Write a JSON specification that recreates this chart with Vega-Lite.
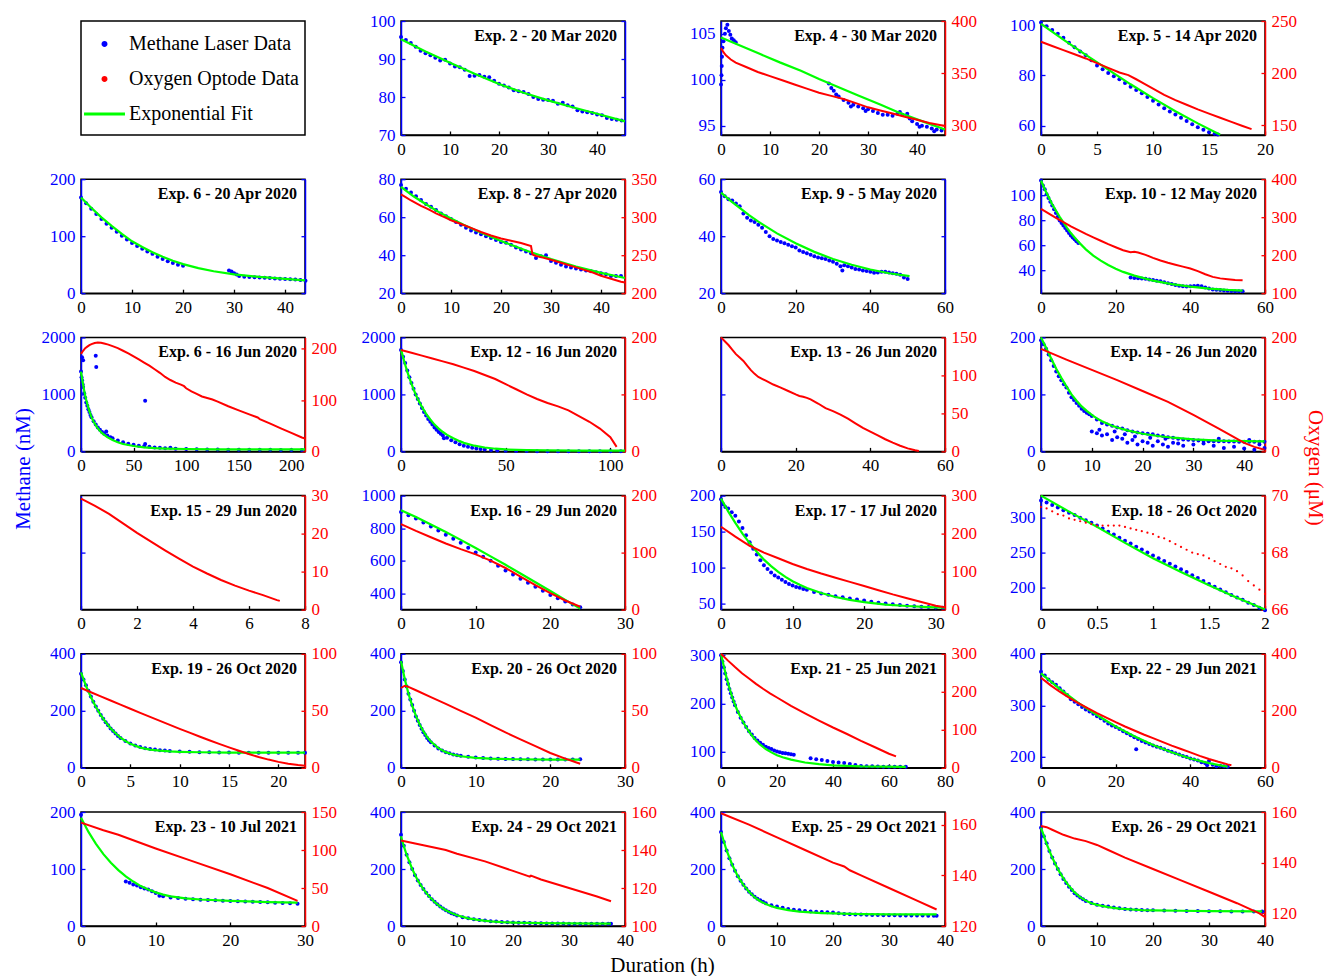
{
"$schema":"https://vega.github.io/schema/vega-lite/v6.json",
"padding":{"left":11,"top":11,"right":0,"bottom":0},
"background":"white",
"config":{
 "font":"Liberation Serif",
 "view":{"stroke":"#000","strokeWidth":1.5},
 "numberFormat":"~r",
 "axis":{"grid":false,"labelFont":"Liberation Serif","labelFontSize":17,"tickSize":-4,"tickWidth":1.3,"domainWidth":1.5,"labelPadding":10,"labelFlush":false,"labelOverlap":false,"titleFont":"Liberation Serif","titleFontSize":21,"titleFontWeight":"normal"},
 "axisBottom":{"domainColor":"#000","tickColor":"#000","labelColor":"#000"},
 "axisLeft":{"domainColor":"#0000ff","tickColor":"#0000ff","labelColor":"#0000ff"},
 "axisRight":{"domainColor":"#ff0000","tickColor":"#ff0000","labelColor":"#ff0000"},
 "legend":{"labelFont":"Liberation Serif"},
 "title":{"font":"Liberation Serif","fontSize":16,"fontWeight":"bold","anchor":"end","frame":"group","offset":-32,"dx":-8,"color":"#000"}
},
"datasets":{
"c":[
{"e":2,"t":0,"v":95.8},{"e":2,"t":1,"v":95},{"e":2,"t":2,"v":94.2},{"e":2,"t":3,"v":93.2},{"e":2,"t":4,"v":92.2},{"e":2,"t":5,"v":91.5},{"e":2,"t":6,"v":91},{"e":2,"t":7,"v":90.3},{"e":2,"t":8,"v":89.6},{"e":2,"t":9,"v":89.8},{"e":2,"t":10,"v":88.8},{"e":2,"t":11,"v":88},{"e":2,"t":12,"v":87.8},{"e":2,"t":13,"v":87.2},{"e":2,"t":14,"v":85.5},{"e":2,"t":15,"v":85.6},{"e":2,"t":16,"v":85.8},{"e":2,"t":17,"v":85.3},{"e":2,"t":18,"v":85.2},{"e":2,"t":19,"v":84.3},{"e":2,"t":20,"v":83.5},{"e":2,"t":21,"v":83},{"e":2,"t":22,"v":82.5},{"e":2,"t":23,"v":81.8},{"e":2,"t":24,"v":81.5},{"e":2,"t":25,"v":81.3},{"e":2,"t":26,"v":80.8},{"e":2,"t":27,"v":80},{"e":2,"t":28,"v":79.5},{"e":2,"t":29,"v":79.3},{"e":2,"t":30,"v":79.2},{"e":2,"t":31,"v":79},{"e":2,"t":32,"v":78.2},{"e":2,"t":33,"v":78.5},{"e":2,"t":34,"v":77.8},{"e":2,"t":35,"v":77.5},{"e":2,"t":36,"v":76.5},{"e":2,"t":37,"v":76.2},{"e":2,"t":38,"v":76},{"e":2,"t":39,"v":75.8},{"e":2,"t":40,"v":75.4},{"e":2,"t":41,"v":75.2},{"e":2,"t":42,"v":74.5},{"e":2,"t":43,"v":74.2},{"e":2,"t":44,"v":74},{"e":2,"t":45,"v":73.8},
{"e":4,"t":0,"v":99.5},{"e":4,"t":0.1,"v":100.5},{"e":4,"t":0.15,"v":101.5},{"e":4,"t":0.2,"v":102.5},{"e":4,"t":0.3,"v":103.5},{"e":4,"t":0.5,"v":104.2},{"e":4,"t":0.8,"v":105},{"e":4,"t":1,"v":105.6},{"e":4,"t":1.3,"v":106},{"e":4,"t":1.6,"v":105.3},{"e":4,"t":1.9,"v":104.9},{"e":4,"t":2.2,"v":104.5},{"e":4,"t":2.6,"v":104.3},{"e":4,"t":3,"v":104.1},{"e":4,"t":22,"v":99.6},{"e":4,"t":22.5,"v":99.1},{"e":4,"t":23,"v":98.8},{"e":4,"t":23.5,"v":98.4},{"e":4,"t":24,"v":98.2},{"e":4,"t":25,"v":97.8},{"e":4,"t":26,"v":97.5},{"e":4,"t":26.5,"v":97.1},{"e":4,"t":27,"v":97.3},{"e":4,"t":28,"v":97.1},{"e":4,"t":29,"v":96.9},{"e":4,"t":29.5,"v":96.6},{"e":4,"t":30,"v":96.8},{"e":4,"t":31,"v":96.6},{"e":4,"t":32,"v":96.4},{"e":4,"t":33,"v":96.2},{"e":4,"t":34,"v":96.2},{"e":4,"t":35,"v":96.1},{"e":4,"t":36,"v":96.3},{"e":4,"t":36.5,"v":96.5},{"e":4,"t":37,"v":96.2},{"e":4,"t":38,"v":96.3},{"e":4,"t":38.5,"v":95.8},{"e":4,"t":39,"v":95.5},{"e":4,"t":40,"v":95.2},{"e":4,"t":40.5,"v":94.9},{"e":4,"t":41,"v":95},{"e":4,"t":42,"v":94.9},{"e":4,"t":43,"v":94.7},{"e":4,"t":43.5,"v":94.4},{"e":4,"t":44,"v":94.6},{"e":4,"t":45,"v":94.5},
{"e":5,"t":0,"v":101},{"e":5,"t":0.5,"v":99.5},{"e":5,"t":1,"v":98},{"e":5,"t":1.5,"v":96.5},{"e":5,"t":2,"v":95},{"e":5,"t":2.5,"v":93},{"e":5,"t":3,"v":91.2},{"e":5,"t":3.5,"v":89.5},{"e":5,"t":4,"v":88},{"e":5,"t":4.5,"v":86},{"e":5,"t":5,"v":84},{"e":5,"t":5.5,"v":82.5},{"e":5,"t":6,"v":81},{"e":5,"t":6.5,"v":79.7},{"e":5,"t":7,"v":78.5},{"e":5,"t":7.5,"v":77},{"e":5,"t":8,"v":75.5},{"e":5,"t":8.5,"v":74.2},{"e":5,"t":9,"v":73},{"e":5,"t":9.5,"v":71.5},{"e":5,"t":10,"v":70},{"e":5,"t":10.5,"v":68.5},{"e":5,"t":11,"v":67},{"e":5,"t":11.5,"v":65.7},{"e":5,"t":12,"v":64.5},{"e":5,"t":12.5,"v":63.2},{"e":5,"t":13,"v":62},{"e":5,"t":13.5,"v":60.7},{"e":5,"t":14,"v":59.5},{"e":5,"t":14.5,"v":58.5},{"e":5,"t":15,"v":57.5},{"e":5,"t":15.5,"v":56.9},{"e":5,"t":15.8,"v":56.6},
{"e":6,"t":0,"v":168},{"e":6,"t":1,"v":158},{"e":6,"t":2,"v":148},{"e":6,"t":3,"v":139},{"e":6,"t":4,"v":130},{"e":6,"t":5,"v":122},{"e":6,"t":6,"v":115},{"e":6,"t":7,"v":108},{"e":6,"t":8,"v":101},{"e":6,"t":9,"v":94},{"e":6,"t":10,"v":88},{"e":6,"t":11,"v":83},{"e":6,"t":12,"v":78},{"e":6,"t":13,"v":73},{"e":6,"t":14,"v":69},{"e":6,"t":15,"v":64},{"e":6,"t":16,"v":60},{"e":6,"t":17,"v":56},{"e":6,"t":18,"v":53},{"e":6,"t":19,"v":50},{"e":6,"t":20,"v":48},{"e":6,"t":29,"v":40},{"e":6,"t":29.5,"v":38},{"e":6,"t":30,"v":35},{"e":6,"t":30.5,"v":33},{"e":6,"t":31,"v":30},{"e":6,"t":32,"v":29},{"e":6,"t":33,"v":28.5},{"e":6,"t":34,"v":28},{"e":6,"t":35,"v":27.5},{"e":6,"t":36,"v":27},{"e":6,"t":37,"v":26.5},{"e":6,"t":38,"v":26},{"e":6,"t":39,"v":25.5},{"e":6,"t":40,"v":25},{"e":6,"t":41,"v":24.5},{"e":6,"t":42,"v":24},{"e":6,"t":43,"v":23},{"e":6,"t":44,"v":22},
{"e":8,"t":0,"v":77},{"e":8,"t":1,"v":75},{"e":8,"t":2,"v":73},{"e":8,"t":3,"v":71},{"e":8,"t":4,"v":69},{"e":8,"t":5,"v":67},{"e":8,"t":6,"v":65.5},{"e":8,"t":7,"v":63.8},{"e":8,"t":8,"v":62},{"e":8,"t":9,"v":60.5},{"e":8,"t":10,"v":59},{"e":8,"t":11,"v":57.5},{"e":8,"t":12,"v":56},{"e":8,"t":13,"v":54.5},{"e":8,"t":14,"v":53},{"e":8,"t":15,"v":52},{"e":8,"t":16,"v":51},{"e":8,"t":17,"v":50},{"e":8,"t":18,"v":49},{"e":8,"t":19,"v":48},{"e":8,"t":20,"v":47},{"e":8,"t":21,"v":46.5},{"e":8,"t":22,"v":45.5},{"e":8,"t":23,"v":44},{"e":8,"t":24,"v":43},{"e":8,"t":25,"v":42},{"e":8,"t":26,"v":41},{"e":8,"t":27,"v":38.5},{"e":8,"t":28,"v":39.5},{"e":8,"t":29,"v":40},{"e":8,"t":30,"v":37},{"e":8,"t":31,"v":36},{"e":8,"t":32,"v":35},{"e":8,"t":33,"v":34},{"e":8,"t":34,"v":33.5},{"e":8,"t":35,"v":33},{"e":8,"t":36,"v":32.5},{"e":8,"t":37,"v":32},{"e":8,"t":38,"v":31.5},{"e":8,"t":39,"v":31},{"e":8,"t":40,"v":30.5},{"e":8,"t":41,"v":30},{"e":8,"t":42,"v":29},{"e":8,"t":43,"v":29},{"e":8,"t":44,"v":29},
{"e":9,"t":0,"v":55.5},{"e":9,"t":1,"v":54},{"e":9,"t":2,"v":53},{"e":9,"t":3,"v":52.5},{"e":9,"t":4,"v":51.5},{"e":9,"t":5,"v":50.5},{"e":9,"t":6,"v":48},{"e":9,"t":7,"v":46.5},{"e":9,"t":8,"v":45.5},{"e":9,"t":9,"v":45},{"e":9,"t":10,"v":44},{"e":9,"t":11,"v":43},{"e":9,"t":12,"v":41.5},{"e":9,"t":13,"v":40},{"e":9,"t":14,"v":39},{"e":9,"t":15,"v":38.5},{"e":9,"t":16,"v":38},{"e":9,"t":17,"v":37.5},{"e":9,"t":18,"v":37},{"e":9,"t":19,"v":36.5},{"e":9,"t":20,"v":36},{"e":9,"t":21,"v":35},{"e":9,"t":22,"v":34.5},{"e":9,"t":23,"v":34},{"e":9,"t":24,"v":33.5},{"e":9,"t":25,"v":33},{"e":9,"t":26,"v":32.5},{"e":9,"t":27,"v":32.3},{"e":9,"t":28,"v":32},{"e":9,"t":29,"v":31.5},{"e":9,"t":30,"v":31},{"e":9,"t":31,"v":30.3},{"e":9,"t":32,"v":29.5},{"e":9,"t":32.5,"v":28},{"e":9,"t":33,"v":29.8},{"e":9,"t":34,"v":29.5},{"e":9,"t":35,"v":29},{"e":9,"t":36,"v":28.5},{"e":9,"t":37,"v":28.3},{"e":9,"t":38,"v":28},{"e":9,"t":39,"v":27.8},{"e":9,"t":40,"v":27.5},{"e":9,"t":41,"v":27.2},{"e":9,"t":42,"v":27.3},{"e":9,"t":43,"v":27.5},{"e":9,"t":44,"v":27.5},{"e":9,"t":45,"v":27.3},{"e":9,"t":46,"v":27},{"e":9,"t":47,"v":26.8},{"e":9,"t":48,"v":26.5},{"e":9,"t":49,"v":25.5},{"e":9,"t":50,"v":25},
{"e":10,"t":0,"v":112},{"e":10,"t":0.5,"v":108},{"e":10,"t":1,"v":105},{"e":10,"t":1.5,"v":101},{"e":10,"t":2,"v":98},{"e":10,"t":2.5,"v":95},{"e":10,"t":3,"v":92},{"e":10,"t":3.5,"v":89},{"e":10,"t":4,"v":86},{"e":10,"t":4.5,"v":83},{"e":10,"t":5,"v":80},{"e":10,"t":5.5,"v":78},{"e":10,"t":6,"v":76},{"e":10,"t":6.5,"v":74},{"e":10,"t":7,"v":72},{"e":10,"t":7.5,"v":70},{"e":10,"t":8,"v":68},{"e":10,"t":8.5,"v":66.5},{"e":10,"t":9,"v":65},{"e":10,"t":9.5,"v":63.5},{"e":10,"t":10,"v":62},{"e":10,"t":24,"v":34.5},{"e":10,"t":25,"v":34.2},{"e":10,"t":26,"v":34},{"e":10,"t":27,"v":33.8},{"e":10,"t":28,"v":33.5},{"e":10,"t":29,"v":33},{"e":10,"t":30,"v":32.5},{"e":10,"t":31,"v":32},{"e":10,"t":32,"v":31.5},{"e":10,"t":33,"v":30.8},{"e":10,"t":34,"v":30},{"e":10,"t":35,"v":29.3},{"e":10,"t":36,"v":28.5},{"e":10,"t":37,"v":28},{"e":10,"t":38,"v":27.5},{"e":10,"t":39,"v":27.3},{"e":10,"t":40,"v":27.5},{"e":10,"t":41,"v":27.8},{"e":10,"t":42,"v":28},{"e":10,"t":43,"v":27.5},{"e":10,"t":44,"v":26.5},{"e":10,"t":45,"v":25.8},{"e":10,"t":46,"v":25},{"e":10,"t":47,"v":24.8},{"e":10,"t":48,"v":24.5},{"e":10,"t":49,"v":24.2},{"e":10,"t":50,"v":24},{"e":10,"t":51,"v":23.8},{"e":10,"t":52,"v":23.5},{"e":10,"t":53,"v":23.5},{"e":10,"t":54,"v":23.5},
{"e":61,"t":0,"v":1400},{"e":61,"t":0.5,"v":1300},{"e":61,"t":1,"v":1250},{"e":61,"t":1.5,"v":1180},{"e":61,"t":2,"v":1130},{"e":61,"t":3,"v":1020},{"e":61,"t":4,"v":940},{"e":61,"t":5,"v":860},{"e":61,"t":6,"v":800},{"e":61,"t":7,"v":740},{"e":61,"t":8,"v":690},{"e":61,"t":9,"v":640},{"e":61,"t":10,"v":600},{"e":61,"t":12,"v":530},{"e":61,"t":14,"v":470},{"e":61,"t":16,"v":420},{"e":61,"t":18,"v":380},{"e":61,"t":20,"v":340},{"e":61,"t":22,"v":310},{"e":61,"t":25,"v":280},{"e":61,"t":28,"v":250},{"e":61,"t":30,"v":230},{"e":61,"t":35,"v":190},{"e":61,"t":40,"v":160},{"e":61,"t":45,"v":135},{"e":61,"t":50,"v":115},{"e":61,"t":55,"v":100},{"e":61,"t":60,"v":90},{"e":61,"t":65,"v":80},{"e":61,"t":70,"v":70},{"e":61,"t":75,"v":62},{"e":61,"t":80,"v":55},{"e":61,"t":90,"v":45},{"e":61,"t":100,"v":40},{"e":61,"t":110,"v":37},{"e":61,"t":120,"v":35},{"e":61,"t":130,"v":33},{"e":61,"t":140,"v":31},{"e":61,"t":150,"v":30},{"e":61,"t":160,"v":29},{"e":61,"t":170,"v":28},{"e":61,"t":180,"v":27},{"e":61,"t":190,"v":26},{"e":61,"t":200,"v":25},{"e":61,"t":210,"v":25},{"e":61,"t":1,"v":1650},{"e":61,"t":2,"v":1600},{"e":61,"t":14,"v":1680},{"e":61,"t":14.5,"v":1480},{"e":61,"t":61,"v":890},{"e":61,"t":61,"v":130},{"e":61,"t":85,"v":65},{"e":61,"t":24,"v":350},
{"e":12,"t":0,"v":1780},{"e":12,"t":1,"v":1660},{"e":12,"t":2,"v":1550},{"e":12,"t":3,"v":1420},{"e":12,"t":4,"v":1300},{"e":12,"t":5,"v":1200},{"e":12,"t":6,"v":1100},{"e":12,"t":7,"v":1000},{"e":12,"t":8,"v":920},{"e":12,"t":9,"v":840},{"e":12,"t":10,"v":760},{"e":12,"t":11,"v":690},{"e":12,"t":12,"v":630},{"e":12,"t":13,"v":570},{"e":12,"t":14,"v":520},{"e":12,"t":15,"v":470},{"e":12,"t":16,"v":420},{"e":12,"t":17,"v":380},{"e":12,"t":18,"v":340},{"e":12,"t":19,"v":310},{"e":12,"t":20,"v":280},{"e":12,"t":20.5,"v":230},{"e":12,"t":22,"v":240},{"e":12,"t":24,"v":195},{"e":12,"t":26,"v":160},{"e":12,"t":28,"v":125},{"e":12,"t":30,"v":100},{"e":12,"t":32,"v":80},{"e":12,"t":34,"v":65},{"e":12,"t":36,"v":52},{"e":12,"t":38,"v":42},{"e":12,"t":40,"v":35},{"e":12,"t":43,"v":25},{"e":12,"t":46,"v":17},{"e":12,"t":50,"v":12},{"e":12,"t":55,"v":7},{"e":12,"t":60,"v":5},{"e":12,"t":65,"v":4},{"e":12,"t":70,"v":3},{"e":12,"t":75,"v":3},{"e":12,"t":80,"v":3},{"e":12,"t":85,"v":3},{"e":12,"t":90,"v":3},{"e":12,"t":95,"v":3},{"e":12,"t":100,"v":3},{"e":12,"t":105,"v":3},
{"e":14,"t":0,"v":195},{"e":14,"t":0.5,"v":188},{"e":14,"t":1,"v":180},{"e":14,"t":1.5,"v":170},{"e":14,"t":2,"v":160},{"e":14,"t":2.5,"v":150},{"e":14,"t":3,"v":140},{"e":14,"t":3.5,"v":132},{"e":14,"t":4,"v":125},{"e":14,"t":4.5,"v":118},{"e":14,"t":5,"v":112},{"e":14,"t":5.5,"v":103},{"e":14,"t":6,"v":95},{"e":14,"t":6.5,"v":90},{"e":14,"t":7,"v":85},{"e":14,"t":7.5,"v":80},{"e":14,"t":8,"v":75},{"e":14,"t":8.5,"v":71},{"e":14,"t":9,"v":68},{"e":14,"t":9.5,"v":65},{"e":14,"t":10,"v":62},{"e":14,"t":11,"v":56},{"e":14,"t":12,"v":50},{"e":14,"t":13,"v":47},{"e":14,"t":14,"v":45},{"e":14,"t":15,"v":42},{"e":14,"t":16,"v":40},{"e":14,"t":17,"v":37},{"e":14,"t":18,"v":35},{"e":14,"t":19,"v":33},{"e":14,"t":20,"v":32},{"e":14,"t":21,"v":31},{"e":14,"t":22,"v":30},{"e":14,"t":23,"v":28},{"e":14,"t":24,"v":27},{"e":14,"t":25,"v":25},{"e":14,"t":26,"v":24},{"e":14,"t":27,"v":22},{"e":14,"t":28,"v":21},{"e":14,"t":29,"v":20.5},{"e":14,"t":30,"v":20},{"e":14,"t":31,"v":19},{"e":14,"t":32,"v":18.5},{"e":14,"t":33,"v":18},{"e":14,"t":34,"v":18},{"e":14,"t":35,"v":18},{"e":14,"t":36,"v":18},{"e":14,"t":37,"v":17.5},{"e":14,"t":38,"v":17.5},{"e":14,"t":39,"v":17},{"e":14,"t":40,"v":17},{"e":14,"t":41,"v":17},{"e":14,"t":42,"v":17},{"e":14,"t":43,"v":17},{"e":14,"t":44,"v":17},{"e":14,"t":10,"v":35},{"e":14,"t":11,"v":32},{"e":14,"t":11.5,"v":38},{"e":14,"t":12,"v":28},{"e":14,"t":13,"v":30},{"e":14,"t":14,"v":20},{"e":14,"t":14.5,"v":35},{"e":14,"t":15,"v":25},{"e":14,"t":16,"v":22},{"e":14,"t":16.5,"v":30},{"e":14,"t":17,"v":15},{"e":14,"t":18,"v":20},{"e":14,"t":18.5,"v":26},{"e":14,"t":19,"v":12},{"e":14,"t":20,"v":18},{"e":14,"t":21,"v":15},{"e":14,"t":21.5,"v":24},{"e":14,"t":22,"v":10},{"e":14,"t":23,"v":18},{"e":14,"t":24,"v":12},{"e":14,"t":24.5,"v":22},{"e":14,"t":25,"v":8},{"e":14,"t":26,"v":15},{"e":14,"t":27,"v":14},{"e":14,"t":28,"v":10},{"e":14,"t":30,"v":12},{"e":14,"t":32,"v":14},{"e":14,"t":34,"v":10},{"e":14,"t":35,"v":22},{"e":14,"t":36,"v":6},{"e":14,"t":38,"v":8},{"e":14,"t":40,"v":5},{"e":14,"t":41,"v":20},{"e":14,"t":42,"v":3},{"e":14,"t":43,"v":12},{"e":14,"t":44,"v":6},
{"e":16,"t":0,"v":900},{"e":16,"t":1,"v":880},{"e":16,"t":2,"v":860},{"e":16,"t":3,"v":835},{"e":16,"t":4,"v":810},{"e":16,"t":5,"v":785},{"e":16,"t":6,"v":760},{"e":16,"t":7,"v":735},{"e":16,"t":8,"v":710},{"e":16,"t":9,"v":680},{"e":16,"t":10,"v":650},{"e":16,"t":11,"v":625},{"e":16,"t":12,"v":600},{"e":16,"t":13,"v":570},{"e":16,"t":14,"v":540},{"e":16,"t":15,"v":515},{"e":16,"t":16,"v":490},{"e":16,"t":17,"v":465},{"e":16,"t":18,"v":440},{"e":16,"t":19,"v":415},{"e":16,"t":20,"v":390},{"e":16,"t":21,"v":370},{"e":16,"t":22,"v":350},{"e":16,"t":23,"v":332},{"e":16,"t":24,"v":315},
{"e":17,"t":0,"v":195},{"e":17,"t":0.3,"v":188},{"e":17,"t":0.6,"v":184},{"e":17,"t":1,"v":182},{"e":17,"t":1.5,"v":177},{"e":17,"t":2,"v":172},{"e":17,"t":2.5,"v":164},{"e":17,"t":3,"v":155},{"e":17,"t":3.5,"v":145},{"e":17,"t":4,"v":135},{"e":17,"t":4.5,"v":126},{"e":17,"t":5,"v":118},{"e":17,"t":5.5,"v":110},{"e":17,"t":6,"v":103},{"e":17,"t":6.5,"v":98},{"e":17,"t":7,"v":93},{"e":17,"t":7.5,"v":89},{"e":17,"t":8,"v":86},{"e":17,"t":8.5,"v":83},{"e":17,"t":9,"v":80},{"e":17,"t":9.5,"v":77},{"e":17,"t":10,"v":75},{"e":17,"t":10.5,"v":73},{"e":17,"t":11,"v":72},{"e":17,"t":11.5,"v":70},{"e":17,"t":12,"v":69},{"e":17,"t":13,"v":66},{"e":17,"t":14,"v":64},{"e":17,"t":15,"v":62},{"e":17,"t":16,"v":60},{"e":17,"t":17,"v":58.5},{"e":17,"t":18,"v":57},{"e":17,"t":19,"v":55.5},{"e":17,"t":20,"v":54},{"e":17,"t":21,"v":52.5},{"e":17,"t":22,"v":51},{"e":17,"t":23,"v":50},{"e":17,"t":24,"v":49},{"e":17,"t":25,"v":48},{"e":17,"t":26,"v":47},{"e":17,"t":27,"v":46.3},{"e":17,"t":28,"v":45.5},{"e":17,"t":29,"v":45},{"e":17,"t":30,"v":44.5},{"e":17,"t":31,"v":44},
{"e":18,"t":0,"v":325},{"e":18,"t":0.05,"v":322},{"e":18,"t":0.1,"v":318.5},{"e":18,"t":0.15,"v":315},{"e":18,"t":0.2,"v":311},{"e":18,"t":0.25,"v":307.5},{"e":18,"t":0.3,"v":304},{"e":18,"t":0.35,"v":300},{"e":18,"t":0.4,"v":296.5},{"e":18,"t":0.45,"v":293},{"e":18,"t":0.5,"v":289},{"e":18,"t":0.55,"v":284.5},{"e":18,"t":0.6,"v":280},{"e":18,"t":0.65,"v":276},{"e":18,"t":0.7,"v":271.5},{"e":18,"t":0.75,"v":267},{"e":18,"t":0.8,"v":263},{"e":18,"t":0.85,"v":258.5},{"e":18,"t":0.9,"v":254.5},{"e":18,"t":0.95,"v":250},{"e":18,"t":1,"v":246},{"e":18,"t":1.05,"v":242},{"e":18,"t":1.1,"v":238},{"e":18,"t":1.15,"v":234},{"e":18,"t":1.2,"v":230},{"e":18,"t":1.25,"v":226},{"e":18,"t":1.3,"v":222},{"e":18,"t":1.35,"v":217.5},{"e":18,"t":1.4,"v":213.5},{"e":18,"t":1.45,"v":209},{"e":18,"t":1.5,"v":205},{"e":18,"t":1.55,"v":201},{"e":18,"t":1.6,"v":197},{"e":18,"t":1.65,"v":193},{"e":18,"t":1.7,"v":189},{"e":18,"t":1.75,"v":185.5},{"e":18,"t":1.8,"v":182},{"e":18,"t":1.85,"v":178},{"e":18,"t":1.9,"v":174.5},{"e":18,"t":1.95,"v":170.5},{"e":18,"t":2,"v":167},
{"e":19,"t":0,"v":330},{"e":19,"t":0.25,"v":310},{"e":19,"t":0.5,"v":290},{"e":19,"t":0.75,"v":270},{"e":19,"t":1,"v":250},{"e":19,"t":1.25,"v":232},{"e":19,"t":1.5,"v":215},{"e":19,"t":1.75,"v":200},{"e":19,"t":2,"v":185},{"e":19,"t":2.25,"v":172},{"e":19,"t":2.5,"v":160},{"e":19,"t":2.75,"v":149},{"e":19,"t":3,"v":138},{"e":19,"t":3.25,"v":129},{"e":19,"t":3.5,"v":120},{"e":19,"t":3.75,"v":112},{"e":19,"t":4,"v":105},{"e":19,"t":4.5,"v":94},{"e":19,"t":5,"v":85},{"e":19,"t":5.5,"v":78},{"e":19,"t":6,"v":73},{"e":19,"t":6.5,"v":69},{"e":19,"t":7,"v":66},{"e":19,"t":7.5,"v":64},{"e":19,"t":8,"v":62},{"e":19,"t":8.5,"v":60.5},{"e":19,"t":9,"v":59},{"e":19,"t":10,"v":57},{"e":19,"t":11,"v":56},{"e":19,"t":12,"v":55},{"e":19,"t":13,"v":54.5},{"e":19,"t":14,"v":54},{"e":19,"t":15,"v":53.5},{"e":19,"t":16,"v":53},{"e":19,"t":17,"v":53},{"e":19,"t":18,"v":53},{"e":19,"t":19,"v":53},{"e":19,"t":20,"v":53},{"e":19,"t":21,"v":53},{"e":19,"t":22,"v":53},{"e":19,"t":22.7,"v":53},
{"e":20,"t":0,"v":370},{"e":20,"t":0.25,"v":340},{"e":20,"t":0.5,"v":310},{"e":20,"t":0.75,"v":285},{"e":20,"t":1,"v":260},{"e":20,"t":1.25,"v":240},{"e":20,"t":1.5,"v":220},{"e":20,"t":1.75,"v":200},{"e":20,"t":2,"v":180},{"e":20,"t":2.25,"v":165},{"e":20,"t":2.5,"v":150},{"e":20,"t":2.75,"v":137},{"e":20,"t":3,"v":125},{"e":20,"t":3.25,"v":115},{"e":20,"t":3.5,"v":105},{"e":20,"t":3.75,"v":97},{"e":20,"t":4,"v":90},{"e":20,"t":4.5,"v":78},{"e":20,"t":5,"v":68},{"e":20,"t":5.5,"v":61},{"e":20,"t":6,"v":55},{"e":20,"t":6.5,"v":51},{"e":20,"t":7,"v":47},{"e":20,"t":7.5,"v":44},{"e":20,"t":8,"v":42},{"e":20,"t":9,"v":39},{"e":20,"t":10,"v":36},{"e":20,"t":11,"v":34.5},{"e":20,"t":12,"v":33},{"e":20,"t":13,"v":32},{"e":20,"t":14,"v":31},{"e":20,"t":15,"v":30.5},{"e":20,"t":16,"v":30},{"e":20,"t":17,"v":29.7},{"e":20,"t":18,"v":29.5},{"e":20,"t":19,"v":29.2},{"e":20,"t":20,"v":29},{"e":20,"t":21,"v":29},{"e":20,"t":22,"v":29},{"e":20,"t":23,"v":29.5},{"e":20,"t":24,"v":30},
{"e":21,"t":0,"v":300},{"e":21,"t":0.5,"v":287},{"e":21,"t":1,"v":275},{"e":21,"t":1.5,"v":262},{"e":21,"t":2,"v":250},{"e":21,"t":2.5,"v":240},{"e":21,"t":3,"v":230},{"e":21,"t":3.5,"v":221},{"e":21,"t":4,"v":212},{"e":21,"t":4.5,"v":204},{"e":21,"t":5,"v":196},{"e":21,"t":6,"v":182},{"e":21,"t":7,"v":170},{"e":21,"t":8,"v":160},{"e":21,"t":9,"v":151},{"e":21,"t":10,"v":142},{"e":21,"t":11,"v":135},{"e":21,"t":12,"v":128},{"e":21,"t":13,"v":123},{"e":21,"t":14,"v":118},{"e":21,"t":15,"v":114},{"e":21,"t":16,"v":110},{"e":21,"t":17,"v":107},{"e":21,"t":18,"v":105},{"e":21,"t":19,"v":102},{"e":21,"t":20,"v":100},{"e":21,"t":21,"v":98.5},{"e":21,"t":22,"v":97},{"e":21,"t":23,"v":96},{"e":21,"t":24,"v":95},{"e":21,"t":25,"v":94},{"e":21,"t":26,"v":93},{"e":21,"t":32,"v":86},{"e":21,"t":34,"v":84},{"e":21,"t":36,"v":82},{"e":21,"t":38,"v":80},{"e":21,"t":40,"v":78},{"e":21,"t":42,"v":77},{"e":21,"t":44,"v":76},{"e":21,"t":46,"v":74},{"e":21,"t":48,"v":72},{"e":21,"t":50,"v":70},{"e":21,"t":52,"v":69},{"e":21,"t":54,"v":69},{"e":21,"t":56,"v":68.5},{"e":21,"t":58,"v":68},{"e":21,"t":60,"v":68},{"e":21,"t":62,"v":68},{"e":21,"t":64,"v":68},{"e":21,"t":66,"v":68},
{"e":22,"t":0,"v":365},{"e":22,"t":1,"v":358},{"e":22,"t":2,"v":350},{"e":22,"t":3,"v":345},{"e":22,"t":4,"v":340},{"e":22,"t":5,"v":333},{"e":22,"t":6,"v":327},{"e":22,"t":7,"v":320},{"e":22,"t":8,"v":312},{"e":22,"t":9,"v":307},{"e":22,"t":10,"v":302},{"e":22,"t":11,"v":297},{"e":22,"t":12,"v":292},{"e":22,"t":13,"v":288},{"e":22,"t":14,"v":284},{"e":22,"t":15,"v":279},{"e":22,"t":16,"v":275},{"e":22,"t":17,"v":270},{"e":22,"t":18,"v":265},{"e":22,"t":19,"v":261},{"e":22,"t":20,"v":258},{"e":22,"t":21,"v":254},{"e":22,"t":22,"v":250},{"e":22,"t":23,"v":246},{"e":22,"t":24,"v":242},{"e":22,"t":25,"v":238},{"e":22,"t":25.5,"v":215},{"e":22,"t":26,"v":235},{"e":22,"t":27,"v":231},{"e":22,"t":28,"v":228},{"e":22,"t":29,"v":225},{"e":22,"t":30,"v":222},{"e":22,"t":31,"v":220},{"e":22,"t":32,"v":218},{"e":22,"t":33,"v":215},{"e":22,"t":34,"v":212},{"e":22,"t":35,"v":210},{"e":22,"t":36,"v":207},{"e":22,"t":37,"v":205},{"e":22,"t":38,"v":202},{"e":22,"t":39,"v":200},{"e":22,"t":40,"v":197},{"e":22,"t":41,"v":195},{"e":22,"t":42,"v":193},{"e":22,"t":43,"v":190},{"e":22,"t":44,"v":188},{"e":22,"t":44.5,"v":184},{"e":22,"t":45,"v":192},{"e":22,"t":46,"v":185},{"e":22,"t":47,"v":182},{"e":22,"t":48,"v":183},{"e":22,"t":49,"v":182},{"e":22,"t":50,"v":181},
{"e":23,"t":0,"v":195},{"e":23,"t":6,"v":78},{"e":23,"t":6.5,"v":76},{"e":23,"t":7,"v":73},{"e":23,"t":7.5,"v":71},{"e":23,"t":8,"v":68},{"e":23,"t":8.5,"v":66},{"e":23,"t":9,"v":64},{"e":23,"t":9.5,"v":61},{"e":23,"t":10,"v":58},{"e":23,"t":10.5,"v":53},{"e":23,"t":11,"v":52},{"e":23,"t":12,"v":50},{"e":23,"t":13,"v":49},{"e":23,"t":14,"v":48},{"e":23,"t":15,"v":47},{"e":23,"t":16,"v":46},{"e":23,"t":17,"v":45.5},{"e":23,"t":18,"v":45},{"e":23,"t":19,"v":44.5},{"e":23,"t":20,"v":44},{"e":23,"t":21,"v":43.5},{"e":23,"t":22,"v":43},{"e":23,"t":23,"v":42.5},{"e":23,"t":24,"v":42},{"e":23,"t":25,"v":41.5},{"e":23,"t":26,"v":41},{"e":23,"t":27,"v":40.5},{"e":23,"t":28,"v":40},{"e":23,"t":29,"v":39},
{"e":24,"t":0,"v":320},{"e":24,"t":0.5,"v":282},{"e":24,"t":1,"v":250},{"e":24,"t":1.5,"v":224},{"e":24,"t":2,"v":200},{"e":24,"t":2.5,"v":178},{"e":24,"t":3,"v":160},{"e":24,"t":3.5,"v":144},{"e":24,"t":4,"v":130},{"e":24,"t":4.5,"v":117},{"e":24,"t":5,"v":105},{"e":24,"t":5.5,"v":94},{"e":24,"t":6,"v":85},{"e":24,"t":6.5,"v":76},{"e":24,"t":7,"v":68},{"e":24,"t":7.5,"v":61},{"e":24,"t":8,"v":55},{"e":24,"t":8.5,"v":50},{"e":24,"t":9,"v":45},{"e":24,"t":9.5,"v":41},{"e":24,"t":10,"v":37},{"e":24,"t":11,"v":31},{"e":24,"t":12,"v":27},{"e":24,"t":13,"v":24},{"e":24,"t":14,"v":21},{"e":24,"t":15,"v":19},{"e":24,"t":16,"v":17},{"e":24,"t":17,"v":15.5},{"e":24,"t":18,"v":14},{"e":24,"t":19,"v":13},{"e":24,"t":20,"v":12},{"e":24,"t":21,"v":11.5},{"e":24,"t":22,"v":11},{"e":24,"t":23,"v":10.5},{"e":24,"t":24,"v":10},{"e":24,"t":25,"v":10},{"e":24,"t":26,"v":9},{"e":24,"t":27,"v":9},{"e":24,"t":28,"v":9},{"e":24,"t":29,"v":8.5},{"e":24,"t":30,"v":8},{"e":24,"t":31,"v":8},{"e":24,"t":32,"v":8},{"e":24,"t":33,"v":8},{"e":24,"t":34,"v":8},{"e":24,"t":35,"v":8},{"e":24,"t":36,"v":8},{"e":24,"t":37,"v":8},{"e":24,"t":37.5,"v":8},
{"e":25,"t":0,"v":330},{"e":25,"t":0.5,"v":295},{"e":25,"t":1,"v":265},{"e":25,"t":1.5,"v":238},{"e":25,"t":2,"v":215},{"e":25,"t":2.5,"v":194},{"e":25,"t":3,"v":175},{"e":25,"t":3.5,"v":159},{"e":25,"t":4,"v":145},{"e":25,"t":4.5,"v":132},{"e":25,"t":5,"v":120},{"e":25,"t":5.5,"v":111},{"e":25,"t":6,"v":103},{"e":25,"t":6.5,"v":96},{"e":25,"t":7,"v":90},{"e":25,"t":7.5,"v":85},{"e":25,"t":8,"v":80},{"e":25,"t":9,"v":73},{"e":25,"t":10,"v":68},{"e":25,"t":11,"v":64},{"e":25,"t":12,"v":60},{"e":25,"t":13,"v":57},{"e":25,"t":14,"v":55},{"e":25,"t":15,"v":53},{"e":25,"t":16,"v":51},{"e":25,"t":17,"v":50},{"e":25,"t":18,"v":49},{"e":25,"t":19,"v":48},{"e":25,"t":20,"v":47},{"e":25,"t":21,"v":45},{"e":25,"t":22,"v":42},{"e":25,"t":23,"v":41},{"e":25,"t":24,"v":40.5},{"e":25,"t":25,"v":40},{"e":25,"t":26,"v":39.5},{"e":25,"t":27,"v":39},{"e":25,"t":28,"v":38.5},{"e":25,"t":29,"v":38},{"e":25,"t":30,"v":38},{"e":25,"t":31,"v":37.5},{"e":25,"t":32,"v":37},{"e":25,"t":33,"v":37},{"e":25,"t":34,"v":37},{"e":25,"t":35,"v":37},{"e":25,"t":36,"v":36.5},{"e":25,"t":37,"v":36},{"e":25,"t":38,"v":36},{"e":25,"t":38.5,"v":36},
{"e":26,"t":0,"v":345},{"e":26,"t":0.5,"v":315},{"e":26,"t":1,"v":290},{"e":26,"t":1.5,"v":263},{"e":26,"t":2,"v":240},{"e":26,"t":2.5,"v":219},{"e":26,"t":3,"v":200},{"e":26,"t":3.5,"v":182},{"e":26,"t":4,"v":165},{"e":26,"t":4.5,"v":151},{"e":26,"t":5,"v":138},{"e":26,"t":5.5,"v":126},{"e":26,"t":6,"v":115},{"e":26,"t":6.5,"v":107},{"e":26,"t":7,"v":100},{"e":26,"t":7.5,"v":94},{"e":26,"t":8,"v":88},{"e":26,"t":9,"v":81},{"e":26,"t":10,"v":75},{"e":26,"t":11,"v":71},{"e":26,"t":12,"v":68},{"e":26,"t":13,"v":65},{"e":26,"t":14,"v":62},{"e":26,"t":15,"v":60},{"e":26,"t":16,"v":58},{"e":26,"t":17,"v":57},{"e":26,"t":18,"v":56},{"e":26,"t":19,"v":55.5},{"e":26,"t":20,"v":55},{"e":26,"t":22,"v":54},{"e":26,"t":24,"v":53.5},{"e":26,"t":26,"v":53},{"e":26,"t":28,"v":52.5},{"e":26,"t":30,"v":52},{"e":26,"t":32,"v":51.5},{"e":26,"t":34,"v":51},{"e":26,"t":36,"v":51},{"e":26,"t":38,"v":51},{"e":26,"t":39.5,"v":51}
],
"f":[
{"e":2,"t":0,"v":95.2},{"e":2,"t":5,"v":92},{"e":2,"t":10,"v":89},{"e":2,"t":15,"v":86.1},{"e":2,"t":20,"v":83.4},{"e":2,"t":25,"v":81.1},{"e":2,"t":30,"v":79.1},{"e":2,"t":35,"v":77.3},{"e":2,"t":40,"v":75.6},{"e":2,"t":45.7,"v":73.6},
{"e":4,"t":0,"v":104.6},{"e":4,"t":4,"v":103.7},{"e":4,"t":8,"v":102.8},{"e":4,"t":12,"v":101.9},{"e":4,"t":16.3,"v":101},{"e":4,"t":20,"v":100.1},{"e":4,"t":24,"v":99.2},{"e":4,"t":28,"v":98.3},{"e":4,"t":32.6,"v":97.3},{"e":4,"t":36,"v":96.5},{"e":4,"t":40,"v":95.7},{"e":4,"t":45.7,"v":94.6},
{"e":5,"t":0,"v":100.5},{"e":5,"t":2,"v":94.2},{"e":5,"t":4,"v":88.2},{"e":5,"t":6,"v":82.3},{"e":5,"t":8,"v":76.5},{"e":5,"t":10,"v":71},{"e":5,"t":12,"v":65.8},{"e":5,"t":14,"v":61},{"e":5,"t":16,"v":56.5},
{"e":6,"t":0,"v":168},{"e":6,"t":2,"v":150},{"e":6,"t":4,"v":133},{"e":6,"t":6,"v":118},{"e":6,"t":8,"v":104},{"e":6,"t":10,"v":91},{"e":6,"t":12,"v":81},{"e":6,"t":14,"v":72},{"e":6,"t":16,"v":64},{"e":6,"t":18,"v":57},{"e":6,"t":20,"v":51},{"e":6,"t":23,"v":44},{"e":6,"t":26,"v":38.5},{"e":6,"t":30,"v":33},{"e":6,"t":35,"v":28.5},{"e":6,"t":40,"v":25},{"e":6,"t":43.9,"v":22.5},
{"e":8,"t":0,"v":76},{"e":8,"t":2.5,"v":71},{"e":8,"t":5,"v":66.8},{"e":8,"t":7.5,"v":62.8},{"e":8,"t":10,"v":59.3},{"e":8,"t":12.5,"v":56},{"e":8,"t":15,"v":53},{"e":8,"t":20,"v":47.5},{"e":8,"t":25,"v":42.5},{"e":8,"t":30,"v":38},{"e":8,"t":35,"v":34},{"e":8,"t":40,"v":30.7},{"e":8,"t":44.8,"v":28},
{"e":9,"t":0,"v":55.3},{"e":9,"t":2.5,"v":52.5},{"e":9,"t":5,"v":49.9},{"e":9,"t":7.5,"v":47.4},{"e":9,"t":10,"v":45.1},{"e":9,"t":15,"v":41},{"e":9,"t":20,"v":37.5},{"e":9,"t":25,"v":34.5},{"e":9,"t":30,"v":32},{"e":9,"t":35,"v":30},{"e":9,"t":40,"v":28.3},{"e":9,"t":45,"v":27},{"e":9,"t":50.5,"v":26},
{"e":10,"t":0,"v":112},{"e":10,"t":1,"v":105},{"e":10,"t":2,"v":99},{"e":10,"t":3,"v":93},{"e":10,"t":4,"v":88},{"e":10,"t":5,"v":83},{"e":10,"t":6,"v":78.5},{"e":10,"t":7,"v":74},{"e":10,"t":8,"v":70},{"e":10,"t":9,"v":66.5},{"e":10,"t":10,"v":63},{"e":10,"t":12,"v":57},{"e":10,"t":14,"v":52},{"e":10,"t":16,"v":48},{"e":10,"t":18,"v":44.5},{"e":10,"t":20,"v":41.5},{"e":10,"t":22,"v":39},{"e":10,"t":25,"v":36},{"e":10,"t":30,"v":32},{"e":10,"t":35,"v":29.2},{"e":10,"t":40,"v":27.2},{"e":10,"t":45,"v":25.7},{"e":10,"t":50,"v":24.6},{"e":10,"t":54,"v":24},
{"e":61,"t":0,"v":1400},{"e":61,"t":1,"v":1280},{"e":61,"t":2,"v":1170},{"e":61,"t":3,"v":1070},{"e":61,"t":4,"v":980},{"e":61,"t":5,"v":900},{"e":61,"t":6,"v":830},{"e":61,"t":8,"v":700},{"e":61,"t":10,"v":600},{"e":61,"t":12,"v":520},{"e":61,"t":15,"v":430},{"e":61,"t":18,"v":360},{"e":61,"t":20,"v":320},{"e":61,"t":25,"v":250},{"e":61,"t":30,"v":200},{"e":61,"t":35,"v":160},{"e":61,"t":40,"v":130},{"e":61,"t":50,"v":95},{"e":61,"t":60,"v":72},{"e":61,"t":70,"v":58},{"e":61,"t":80,"v":50},{"e":61,"t":100,"v":42},{"e":61,"t":130,"v":37},{"e":61,"t":170,"v":35},{"e":61,"t":213,"v":34},
{"e":12,"t":0,"v":1790},{"e":12,"t":1,"v":1650},{"e":12,"t":2,"v":1520},{"e":12,"t":3,"v":1400},{"e":12,"t":4,"v":1290},{"e":12,"t":5,"v":1190},{"e":12,"t":6,"v":1090},{"e":12,"t":7,"v":1000},{"e":12,"t":8,"v":920},{"e":12,"t":9,"v":850},{"e":12,"t":10,"v":780},{"e":12,"t":12,"v":660},{"e":12,"t":14,"v":560},{"e":12,"t":16,"v":470},{"e":12,"t":18,"v":400},{"e":12,"t":20,"v":340},{"e":12,"t":22,"v":290},{"e":12,"t":25,"v":230},{"e":12,"t":28,"v":180},{"e":12,"t":30,"v":150},{"e":12,"t":35,"v":100},{"e":12,"t":40,"v":68},{"e":12,"t":45,"v":47},{"e":12,"t":50,"v":34},{"e":12,"t":60,"v":22},{"e":12,"t":70,"v":17},{"e":12,"t":85,"v":15},{"e":12,"t":107,"v":14},
{"e":14,"t":0,"v":200},{"e":14,"t":1,"v":182},{"e":14,"t":2,"v":163},{"e":14,"t":3,"v":145},{"e":14,"t":4,"v":129},{"e":14,"t":5,"v":114},{"e":14,"t":6,"v":100},{"e":14,"t":7,"v":89},{"e":14,"t":8,"v":79},{"e":14,"t":9,"v":71},{"e":14,"t":10,"v":64},{"e":14,"t":11,"v":58},{"e":14,"t":12,"v":53},{"e":14,"t":13,"v":49},{"e":14,"t":14,"v":45},{"e":14,"t":15,"v":42},{"e":14,"t":17,"v":37},{"e":14,"t":20,"v":31},{"e":14,"t":23,"v":27},{"e":14,"t":26,"v":24},{"e":14,"t":30,"v":21},{"e":14,"t":35,"v":19},{"e":14,"t":40,"v":18},{"e":14,"t":44,"v":17.5},
{"e":16,"t":0,"v":910},{"e":16,"t":2,"v":868},{"e":16,"t":4,"v":823},{"e":16,"t":6,"v":776},{"e":16,"t":8,"v":728},{"e":16,"t":10,"v":678},{"e":16,"t":12,"v":627},{"e":16,"t":14,"v":575},{"e":16,"t":16,"v":522},{"e":16,"t":18,"v":468},{"e":16,"t":20,"v":414},{"e":16,"t":22,"v":360},{"e":16,"t":24,"v":306},
{"e":17,"t":0,"v":196},{"e":17,"t":1,"v":178},{"e":17,"t":2,"v":162},{"e":17,"t":3,"v":147},{"e":17,"t":4,"v":134},{"e":17,"t":5,"v":122},{"e":17,"t":6,"v":111},{"e":17,"t":7,"v":102},{"e":17,"t":8,"v":94},{"e":17,"t":9,"v":87},{"e":17,"t":10,"v":81},{"e":17,"t":11,"v":76},{"e":17,"t":12,"v":71.5},{"e":17,"t":14,"v":64.5},{"e":17,"t":16,"v":59},{"e":17,"t":18,"v":55},{"e":17,"t":20,"v":52},{"e":17,"t":23,"v":48.5},{"e":17,"t":26,"v":46.5},{"e":17,"t":29,"v":45},{"e":17,"t":31.3,"v":44.3},
{"e":18,"t":0,"v":332},{"e":18,"t":0.25,"v":309},{"e":18,"t":0.5,"v":287},{"e":18,"t":0.75,"v":264},{"e":18,"t":1,"v":242},{"e":18,"t":1.25,"v":222},{"e":18,"t":1.5,"v":203},{"e":18,"t":1.75,"v":185},{"e":18,"t":2,"v":168},
{"e":19,"t":0,"v":335},{"e":19,"t":0.5,"v":288},{"e":19,"t":1,"v":248},{"e":19,"t":1.5,"v":214},{"e":19,"t":2,"v":185},{"e":19,"t":2.5,"v":160},{"e":19,"t":3,"v":139},{"e":19,"t":3.5,"v":121},{"e":19,"t":4,"v":106},{"e":19,"t":4.5,"v":94},{"e":19,"t":5,"v":84},{"e":19,"t":6,"v":71},{"e":19,"t":7,"v":64},{"e":19,"t":8,"v":60},{"e":19,"t":9,"v":57.5},{"e":19,"t":10,"v":56},{"e":19,"t":12,"v":54.5},{"e":19,"t":15,"v":53.5},{"e":19,"t":20,"v":53},{"e":19,"t":22.7,"v":53},
{"e":20,"t":0,"v":375},{"e":20,"t":0.5,"v":312},{"e":20,"t":1,"v":260},{"e":20,"t":1.5,"v":218},{"e":20,"t":2,"v":182},{"e":20,"t":2.5,"v":152},{"e":20,"t":3,"v":128},{"e":20,"t":3.5,"v":108},{"e":20,"t":4,"v":92},{"e":20,"t":5,"v":69},{"e":20,"t":6,"v":55},{"e":20,"t":7,"v":46},{"e":20,"t":8,"v":40.5},{"e":20,"t":10,"v":35},{"e":20,"t":12,"v":32},{"e":20,"t":15,"v":30},{"e":20,"t":20,"v":29},{"e":20,"t":24,"v":29},
{"e":21,"t":0,"v":303},{"e":21,"t":1,"v":277},{"e":21,"t":2,"v":253},{"e":21,"t":3,"v":232},{"e":21,"t":4,"v":213},{"e":21,"t":5,"v":197},{"e":21,"t":6,"v":183},{"e":21,"t":8,"v":160},{"e":21,"t":10,"v":141},{"e":21,"t":12,"v":126},{"e":21,"t":14,"v":114},{"e":21,"t":16,"v":105},{"e":21,"t":18,"v":98},{"e":21,"t":20,"v":92},{"e":21,"t":22,"v":88},{"e":21,"t":25,"v":83},{"e":21,"t":30,"v":77},{"e":21,"t":35,"v":73.5},{"e":21,"t":40,"v":71},{"e":21,"t":50,"v":69},{"e":21,"t":66,"v":68},
{"e":22,"t":0,"v":362},{"e":22,"t":5,"v":332},{"e":22,"t":10,"v":305},{"e":22,"t":15,"v":281},{"e":22,"t":20,"v":259},{"e":22,"t":25,"v":240},{"e":22,"t":30,"v":223},{"e":22,"t":35,"v":209},{"e":22,"t":40,"v":197},{"e":22,"t":45,"v":188},{"e":22,"t":50,"v":181},
{"e":23,"t":0,"v":190},{"e":23,"t":1,"v":165},{"e":23,"t":2,"v":144},{"e":23,"t":3,"v":126},{"e":23,"t":4,"v":111},{"e":23,"t":5,"v":98},{"e":23,"t":6,"v":87},{"e":23,"t":7,"v":78},{"e":23,"t":8,"v":70},{"e":23,"t":9,"v":64},{"e":23,"t":10,"v":59},{"e":23,"t":11,"v":55},{"e":23,"t":12,"v":52},{"e":23,"t":14,"v":48.5},{"e":23,"t":16,"v":46.5},{"e":23,"t":20,"v":44},{"e":23,"t":25,"v":42},{"e":23,"t":29,"v":41},
{"e":24,"t":0,"v":315},{"e":24,"t":0.5,"v":280},{"e":24,"t":1,"v":250},{"e":24,"t":2,"v":200},{"e":24,"t":3,"v":160},{"e":24,"t":4,"v":129},{"e":24,"t":5,"v":104},{"e":24,"t":6,"v":84},{"e":24,"t":7,"v":68},{"e":24,"t":8,"v":55.5},{"e":24,"t":9,"v":45.5},{"e":24,"t":10,"v":37.5},{"e":24,"t":12,"v":27},{"e":24,"t":14,"v":20.5},{"e":24,"t":16,"v":16.5},{"e":24,"t":18,"v":13.5},{"e":24,"t":20,"v":12},{"e":24,"t":25,"v":10},{"e":24,"t":30,"v":9},{"e":24,"t":37.5,"v":8.5},
{"e":25,"t":0,"v":330},{"e":25,"t":1,"v":265},{"e":25,"t":2,"v":215},{"e":25,"t":3,"v":175},{"e":25,"t":4,"v":144},{"e":25,"t":5,"v":120},{"e":25,"t":6,"v":101},{"e":25,"t":7,"v":87},{"e":25,"t":8,"v":77},{"e":25,"t":9,"v":69.5},{"e":25,"t":10,"v":63.5},{"e":25,"t":12,"v":55.5},{"e":25,"t":14,"v":50.5},{"e":25,"t":16,"v":47.5},{"e":25,"t":18,"v":45.5},{"e":25,"t":20,"v":44},{"e":25,"t":25,"v":42},{"e":25,"t":30,"v":41},{"e":25,"t":38.5,"v":40.5},
{"e":26,"t":0,"v":345},{"e":26,"t":1,"v":288},{"e":26,"t":2,"v":240},{"e":26,"t":3,"v":200},{"e":26,"t":4,"v":167},{"e":26,"t":5,"v":140},{"e":26,"t":6,"v":118},{"e":26,"t":7,"v":101},{"e":26,"t":8,"v":89},{"e":26,"t":9,"v":80},{"e":26,"t":10,"v":74},{"e":26,"t":12,"v":66},{"e":26,"t":14,"v":61},{"e":26,"t":16,"v":58},{"e":26,"t":18,"v":56},{"e":26,"t":20,"v":55},{"e":26,"t":25,"v":53.5},{"e":26,"t":30,"v":52.5},{"e":26,"t":39.5,"v":51.5}
],
"o":[
{"e":4,"t":0,"v":374},{"e":4,"t":0.5,"v":370},{"e":4,"t":1,"v":367},{"e":4,"t":2,"v":363},{"e":4,"t":3,"v":360},{"e":4,"t":5,"v":356},{"e":4,"t":7.5,"v":351},{"e":4,"t":10,"v":347},{"e":4,"t":12.5,"v":343},{"e":4,"t":15,"v":339},{"e":4,"t":17.5,"v":335},{"e":4,"t":20,"v":331},{"e":4,"t":22.5,"v":328},{"e":4,"t":25,"v":325},{"e":4,"t":27.5,"v":321},{"e":4,"t":30,"v":317},{"e":4,"t":32.5,"v":314},{"e":4,"t":35,"v":311},{"e":4,"t":37.5,"v":308},{"e":4,"t":40,"v":305},{"e":4,"t":42.5,"v":302},{"e":4,"t":45.7,"v":299},
{"e":5,"t":0,"v":230},{"e":5,"t":1,"v":226},{"e":5,"t":2,"v":222},{"e":5,"t":3,"v":218},{"e":5,"t":4,"v":214},{"e":5,"t":5,"v":209.5},{"e":5,"t":6,"v":205},{"e":5,"t":7,"v":200.5},{"e":5,"t":7.8,"v":198},{"e":5,"t":8.5,"v":194},{"e":5,"t":9,"v":191},{"e":5,"t":10,"v":185},{"e":5,"t":11,"v":179},{"e":5,"t":12,"v":174},{"e":5,"t":13,"v":169.5},{"e":5,"t":14,"v":165},{"e":5,"t":15,"v":161},{"e":5,"t":16,"v":157},{"e":5,"t":17,"v":153},{"e":5,"t":18,"v":149},{"e":5,"t":18.8,"v":146},
{"e":8,"t":0,"v":330},{"e":8,"t":1,"v":326},{"e":8,"t":2,"v":322},{"e":8,"t":3,"v":318.5},{"e":8,"t":4,"v":315},{"e":8,"t":5,"v":312},{"e":8,"t":6,"v":308.5},{"e":8,"t":7,"v":305},{"e":8,"t":8,"v":302},{"e":8,"t":9,"v":299},{"e":8,"t":10,"v":296},{"e":8,"t":12,"v":291},{"e":8,"t":14,"v":286},{"e":8,"t":16,"v":280.5},{"e":8,"t":18,"v":276},{"e":8,"t":20,"v":272},{"e":8,"t":22,"v":269},{"e":8,"t":24,"v":266},{"e":8,"t":26,"v":262},{"e":8,"t":26.3,"v":251},{"e":8,"t":27,"v":249},{"e":8,"t":28,"v":247.5},{"e":8,"t":30,"v":244},{"e":8,"t":32,"v":240},{"e":8,"t":34,"v":236},{"e":8,"t":36,"v":232},{"e":8,"t":38,"v":228},{"e":8,"t":40,"v":223},{"e":8,"t":42,"v":219},{"e":8,"t":44,"v":215},{"e":8,"t":44.8,"v":214},
{"e":10,"t":0,"v":322},{"e":10,"t":2,"v":310},{"e":10,"t":4,"v":298},{"e":10,"t":6,"v":287},{"e":10,"t":8,"v":276},{"e":10,"t":10,"v":266},{"e":10,"t":12,"v":256},{"e":10,"t":14,"v":247},{"e":10,"t":16,"v":238},{"e":10,"t":18,"v":229},{"e":10,"t":20,"v":221},{"e":10,"t":22,"v":213},{"e":10,"t":24,"v":208},{"e":10,"t":25,"v":209},{"e":10,"t":26,"v":207},{"e":10,"t":28,"v":201},{"e":10,"t":30,"v":193},{"e":10,"t":32,"v":186},{"e":10,"t":34,"v":180},{"e":10,"t":36,"v":175},{"e":10,"t":38,"v":170},{"e":10,"t":40,"v":165},{"e":10,"t":42,"v":158},{"e":10,"t":44,"v":150},{"e":10,"t":46,"v":143},{"e":10,"t":48,"v":139},{"e":10,"t":50,"v":137},{"e":10,"t":52,"v":135},{"e":10,"t":54,"v":134},
{"e":61,"t":0,"v":190},{"e":61,"t":2,"v":196},{"e":61,"t":4,"v":201},{"e":61,"t":6,"v":204},{"e":61,"t":8,"v":207},{"e":61,"t":10,"v":209},{"e":61,"t":13,"v":211},{"e":61,"t":16,"v":212},{"e":61,"t":19,"v":211.5},{"e":61,"t":22,"v":210},{"e":61,"t":26,"v":208},{"e":61,"t":30,"v":205},{"e":61,"t":35,"v":201},{"e":61,"t":40,"v":196},{"e":61,"t":45,"v":191},{"e":61,"t":50,"v":185},{"e":61,"t":55,"v":179},{"e":61,"t":60,"v":173},{"e":61,"t":65,"v":167},{"e":61,"t":70,"v":160},{"e":61,"t":75,"v":153},{"e":61,"t":80,"v":145},{"e":61,"t":85,"v":139},{"e":61,"t":90,"v":134},{"e":61,"t":95,"v":130},{"e":61,"t":98,"v":127},{"e":61,"t":100,"v":123},{"e":61,"t":105,"v":117},{"e":61,"t":110,"v":112},{"e":61,"t":115,"v":107},{"e":61,"t":120,"v":104},{"e":61,"t":125,"v":101},{"e":61,"t":130,"v":97},{"e":61,"t":140,"v":88},{"e":61,"t":150,"v":80},{"e":61,"t":160,"v":72},{"e":61,"t":168,"v":66},{"e":61,"t":170,"v":63},{"e":61,"t":180,"v":54},{"e":61,"t":190,"v":45},{"e":61,"t":200,"v":36},{"e":61,"t":210,"v":27},{"e":61,"t":213,"v":25},
{"e":12,"t":0,"v":178},{"e":12,"t":5,"v":173},{"e":12,"t":10,"v":168},{"e":12,"t":15,"v":163},{"e":12,"t":20,"v":158},{"e":12,"t":25,"v":153},{"e":12,"t":30,"v":147},{"e":12,"t":35,"v":141},{"e":12,"t":40,"v":134},{"e":12,"t":45,"v":127},{"e":12,"t":50,"v":118},{"e":12,"t":55,"v":109},{"e":12,"t":60,"v":100},{"e":12,"t":65,"v":92},{"e":12,"t":70,"v":85},{"e":12,"t":75,"v":79},{"e":12,"t":80,"v":72},{"e":12,"t":85,"v":62},{"e":12,"t":90,"v":52},{"e":12,"t":95,"v":40},{"e":12,"t":100,"v":25},{"e":12,"t":103,"v":8},
{"e":13,"t":0,"v":150},{"e":13,"t":1,"v":145},{"e":13,"t":2,"v":140},{"e":13,"t":3,"v":134},{"e":13,"t":4,"v":128},{"e":13,"t":5,"v":123.5},{"e":13,"t":6,"v":119},{"e":13,"t":7,"v":113},{"e":13,"t":8,"v":107},{"e":13,"t":9,"v":102},{"e":13,"t":10,"v":98},{"e":13,"t":11,"v":95.5},{"e":13,"t":12,"v":93},{"e":13,"t":14,"v":88},{"e":13,"t":16,"v":84},{"e":13,"t":18,"v":79.5},{"e":13,"t":20,"v":75},{"e":13,"t":21,"v":73},{"e":13,"t":22,"v":72},{"e":13,"t":23,"v":70.5},{"e":13,"t":24,"v":68.5},{"e":13,"t":26,"v":63},{"e":13,"t":28,"v":57},{"e":13,"t":30,"v":53},{"e":13,"t":32,"v":48.5},{"e":13,"t":34,"v":43},{"e":13,"t":36,"v":37},{"e":13,"t":38,"v":31},{"e":13,"t":40,"v":26},{"e":13,"t":42,"v":21},{"e":13,"t":44,"v":16},{"e":13,"t":46,"v":11.5},{"e":13,"t":48,"v":7.5},{"e":13,"t":50,"v":4},{"e":13,"t":52,"v":1.5},{"e":13,"t":53,"v":0.5},
{"e":14,"t":0,"v":180},{"e":14,"t":5,"v":161},{"e":14,"t":10,"v":143},{"e":14,"t":15,"v":125},{"e":14,"t":20,"v":106},{"e":14,"t":25,"v":87},{"e":14,"t":30,"v":64},{"e":14,"t":35,"v":40},{"e":14,"t":38,"v":25},{"e":14,"t":40,"v":15},{"e":14,"t":42,"v":8},{"e":14,"t":44,"v":3},
{"e":15,"t":0,"v":29.2},{"e":15,"t":0.5,"v":27.3},{"e":15,"t":1,"v":25.2},{"e":15,"t":1.5,"v":22.7},{"e":15,"t":2,"v":20.2},{"e":15,"t":2.5,"v":17.9},{"e":15,"t":3,"v":15.6},{"e":15,"t":3.5,"v":13.4},{"e":15,"t":4,"v":11.3},{"e":15,"t":4.5,"v":9.5},{"e":15,"t":5,"v":7.8},{"e":15,"t":5.5,"v":6.3},{"e":15,"t":6,"v":5},{"e":15,"t":6.5,"v":3.8},{"e":15,"t":7,"v":2.5},{"e":15,"t":7.1,"v":2.3},
{"e":16,"t":0,"v":150},{"e":16,"t":2,"v":138},{"e":16,"t":4,"v":127},{"e":16,"t":6,"v":116},{"e":16,"t":8,"v":106},{"e":16,"t":10,"v":97},{"e":16,"t":12,"v":86},{"e":16,"t":14,"v":73},{"e":16,"t":16,"v":58},{"e":16,"t":18,"v":43},{"e":16,"t":20,"v":29},{"e":16,"t":22,"v":16},{"e":16,"t":24,"v":5},
{"e":17,"t":0,"v":218},{"e":17,"t":2,"v":192},{"e":17,"t":4,"v":168},{"e":17,"t":6,"v":150},{"e":17,"t":8,"v":135},{"e":17,"t":10,"v":120},{"e":17,"t":12,"v":107},{"e":17,"t":14,"v":95},{"e":17,"t":16,"v":84},{"e":17,"t":18,"v":73},{"e":17,"t":20,"v":62},{"e":17,"t":22,"v":51},{"e":17,"t":24,"v":40},{"e":17,"t":26,"v":30},{"e":17,"t":28,"v":20},{"e":17,"t":30,"v":10},{"e":17,"t":31.3,"v":6},
{"e":19,"t":0,"v":70},{"e":19,"t":1,"v":66.3},{"e":19,"t":2,"v":62.6},{"e":19,"t":3,"v":59},{"e":19,"t":4,"v":55.4},{"e":19,"t":5,"v":51.8},{"e":19,"t":6,"v":48.2},{"e":19,"t":7,"v":44.7},{"e":19,"t":8,"v":41.2},{"e":19,"t":9,"v":37.7},{"e":19,"t":10,"v":34.2},{"e":19,"t":11,"v":30.8},{"e":19,"t":12,"v":27.5},{"e":19,"t":13,"v":24.2},{"e":19,"t":14,"v":21},{"e":19,"t":15,"v":17.9},{"e":19,"t":16,"v":14.9},{"e":19,"t":17,"v":12.1},{"e":19,"t":18,"v":9.5},{"e":19,"t":19,"v":7.2},{"e":19,"t":20,"v":5.2},{"e":19,"t":21,"v":3.6},{"e":19,"t":22,"v":2.4},{"e":19,"t":22.7,"v":1.8},
{"e":20,"t":0,"v":70},{"e":20,"t":0.5,"v":72},{"e":20,"t":1,"v":71},{"e":20,"t":2,"v":68},{"e":20,"t":4,"v":62},{"e":20,"t":6,"v":56},{"e":20,"t":8,"v":50},{"e":20,"t":10,"v":44},{"e":20,"t":12,"v":37.5},{"e":20,"t":14,"v":31},{"e":20,"t":16,"v":25},{"e":20,"t":18,"v":19},{"e":20,"t":20,"v":13},{"e":20,"t":22,"v":8},{"e":20,"t":24,"v":3.5},
{"e":21,"t":0,"v":300},{"e":21,"t":2.5,"v":282},{"e":21,"t":5,"v":265},{"e":21,"t":7.5,"v":249},{"e":21,"t":10,"v":235},{"e":21,"t":12.5,"v":221},{"e":21,"t":15,"v":208},{"e":21,"t":17.5,"v":196},{"e":21,"t":20,"v":185},{"e":21,"t":25,"v":163},{"e":21,"t":30,"v":143},{"e":21,"t":35,"v":124},{"e":21,"t":40,"v":106},{"e":21,"t":45,"v":89},{"e":21,"t":50,"v":71},{"e":21,"t":55,"v":54},{"e":21,"t":60,"v":37},{"e":21,"t":62.5,"v":30},
{"e":22,"t":0,"v":316},{"e":22,"t":2.5,"v":290},{"e":22,"t":5,"v":267},{"e":22,"t":7.5,"v":246},{"e":22,"t":10,"v":227},{"e":22,"t":12.5,"v":209},{"e":22,"t":15,"v":192},{"e":22,"t":17.5,"v":176},{"e":22,"t":20,"v":160},{"e":22,"t":22.5,"v":145},{"e":22,"t":25,"v":131},{"e":22,"t":27.5,"v":117},{"e":22,"t":30,"v":104},{"e":22,"t":32.5,"v":91},{"e":22,"t":35,"v":78},{"e":22,"t":37.5,"v":66},{"e":22,"t":40,"v":54},{"e":22,"t":42.5,"v":42},{"e":22,"t":45,"v":31},{"e":22,"t":47.5,"v":21},{"e":22,"t":50,"v":12},{"e":22,"t":51,"v":9},
{"e":23,"t":0,"v":136},{"e":23,"t":3,"v":126},{"e":23,"t":5,"v":120},{"e":23,"t":10,"v":102},{"e":23,"t":15,"v":85},{"e":23,"t":20,"v":68},{"e":23,"t":25,"v":50},{"e":23,"t":29,"v":33},
{"e":24,"t":0,"v":145},{"e":24,"t":4,"v":142.5},{"e":24,"t":8,"v":140},{"e":24,"t":10,"v":138},{"e":24,"t":15,"v":134},{"e":24,"t":20,"v":129},{"e":24,"t":23,"v":126},{"e":24,"t":23.2,"v":126.5},{"e":24,"t":25,"v":124.5},{"e":24,"t":30,"v":120},{"e":24,"t":35,"v":115.5},{"e":24,"t":37.5,"v":113},
{"e":25,"t":0,"v":164.5},{"e":25,"t":5,"v":160},{"e":25,"t":10,"v":155},{"e":25,"t":15,"v":150},{"e":25,"t":20,"v":145},{"e":25,"t":22,"v":143.5},{"e":25,"t":23,"v":142},{"e":25,"t":25,"v":140},{"e":25,"t":30,"v":135},{"e":25,"t":35,"v":130},{"e":25,"t":38.5,"v":126.5},
{"e":26,"t":0,"v":154.5},{"e":26,"t":1,"v":154},{"e":26,"t":2,"v":153},{"e":26,"t":4,"v":151},{"e":26,"t":6,"v":149.5},{"e":26,"t":8,"v":148.5},{"e":26,"t":10,"v":147},{"e":26,"t":12,"v":145},{"e":26,"t":15,"v":142},{"e":26,"t":20,"v":137.5},{"e":26,"t":25,"v":133},{"e":26,"t":30,"v":128.5},{"e":26,"t":35,"v":124},{"e":26,"t":39,"v":120},{"e":26,"t":40,"v":118.5}
],
"o18":[
{"e":18,"t":0,"v":69.6},{"e":18,"t":0.05,"v":69.55},{"e":18,"t":0.1,"v":69.45},{"e":18,"t":0.15,"v":69.35},{"e":18,"t":0.2,"v":69.3},{"e":18,"t":0.25,"v":69.2},{"e":18,"t":0.3,"v":69.15},{"e":18,"t":0.35,"v":69.1},{"e":18,"t":0.4,"v":69.05},{"e":18,"t":0.45,"v":69},{"e":18,"t":0.5,"v":68.95},{"e":18,"t":0.55,"v":68.95},{"e":18,"t":0.6,"v":68.95},{"e":18,"t":0.65,"v":68.95},{"e":18,"t":0.7,"v":68.95},{"e":18,"t":0.75,"v":68.9},{"e":18,"t":0.8,"v":68.85},{"e":18,"t":0.85,"v":68.8},{"e":18,"t":0.9,"v":68.75},{"e":18,"t":0.95,"v":68.7},{"e":18,"t":1,"v":68.65},{"e":18,"t":1.05,"v":68.55},{"e":18,"t":1.1,"v":68.5},{"e":18,"t":1.15,"v":68.4},{"e":18,"t":1.2,"v":68.3},{"e":18,"t":1.25,"v":68.2},{"e":18,"t":1.3,"v":68.1},{"e":18,"t":1.35,"v":68},{"e":18,"t":1.4,"v":67.95},{"e":18,"t":1.45,"v":67.9},{"e":18,"t":1.5,"v":67.8},{"e":18,"t":1.55,"v":67.7},{"e":18,"t":1.6,"v":67.6},{"e":18,"t":1.65,"v":67.5},{"e":18,"t":1.7,"v":67.45},{"e":18,"t":1.75,"v":67.35},{"e":18,"t":1.8,"v":67.2},{"e":18,"t":1.85,"v":67},{"e":18,"t":1.9,"v":66.85},{"e":18,"t":1.95,"v":66.7},{"e":18,"t":2,"v":66.55}
]
},
"columns":4,
"spacing":{"row":44.2,"column":96},
"bounds":"flush",
"concat":[
{"width":224,"height":114,"view":{"stroke":"#000","strokeWidth":1.5},"data":{"values":[{"s":"Methane Laser Data"},{"s":"Oxygen Optode Data"},{"s":"Exponential Fit"}]},"mark":{"type":"point","filled":true,"opacity":0},
 "encoding":{
  "color":{"field":"s","type":"nominal","scale":{"domain":["Methane Laser Data","Oxygen Optode Data","Exponential Fit"],"range":["#0000ff","#ff0000","#00ff00"]},"legend":{"orient":"none","legendX":6,"legendY":5.5,"title":null,"labelFont":"Liberation Serif","labelFontSize":20,"labelColor":"#000","symbolSize":1225,"symbolStrokeWidth":0,"symbolOpacity":1,"rowPadding":7,"labelOffset":7,"padding":0,"labelLimit":300}},
  "shape":{"field":"s","type":"nominal","scale":{"domain":["Methane Laser Data","Oxygen Optode Data","Exponential Fit"],"range":["M-0.17,0A0.17,0.17,0,1,0,0.17,0A0.17,0.17,0,1,0,-0.17,0Z","M-0.17,0A0.17,0.17,0,1,0,0.17,0A0.17,0.17,0,1,0,-0.17,0Z","M-1.17,-0.085H1.17V0.085H-1.17Z"]},"legend":{"orient":"none","legendX":6,"legendY":5.5,"title":null,"labelFont":"Liberation Serif","labelFontSize":20,"labelColor":"#000","symbolSize":1225,"symbolStrokeWidth":0,"symbolOpacity":1,"rowPadding":7,"labelOffset":7,"padding":0,"labelLimit":300}}
 }},
{"title":{"text":"Exp. 2 - 20 Mar 2020"},"width":224,"height":114,"encoding":{"x":{"field":"t","type":"quantitative","scale":{"domain":[0,45.7]},"axis":{"title":null,"values":[0,10,20,30,40]}}},"layer":[
{"data":{"name":"c"},"transform":[{"filter":"datum.e==2"}],"mark":{"type":"circle","size":16,"color":"#0000ff","opacity":1},"encoding":{"y":{"field":"v","type":"quantitative","scale":{"domain":[70,100]},"axis":{"title":null,"orient":"left","values":[70,80,90,100]}}}},
{"data":{"name":"f"},"transform":[{"filter":"datum.e==2"}],"mark":{"type":"line","color":"#00ff00","strokeWidth":2.2},"encoding":{"y":{"field":"v","type":"quantitative","scale":{"domain":[70,100]},"axis":null}}},
{"data":{"name":"o"},"transform":[{"filter":"datum.e==2"}],"mark":{"type":"line","color":"#ff0000","strokeWidth":2},"encoding":{"y":{"field":"v","type":"quantitative","scale":{"domain":[70,100]},"axis":{"title":null,"orient":"right","values":[70,80,90,100],"labels":false,"domainColor":"#0000ff","tickColor":"#0000ff"}}}}
],"resolve":{"scale":{"y":"independent"},"axis":{"y":"independent"}}},
{"title":{"text":"Exp. 4 - 30 Mar 2020"},"width":224,"height":114,"encoding":{"x":{"field":"t","type":"quantitative","scale":{"domain":[0,45.7]},"axis":{"title":null,"values":[0,10,20,30,40]}}},"layer":[
{"data":{"name":"c"},"transform":[{"filter":"datum.e==4"}],"mark":{"type":"circle","size":16,"color":"#0000ff","opacity":1},"encoding":{"y":{"field":"v","type":"quantitative","scale":{"domain":[94,106.4]},"axis":{"title":null,"orient":"left","values":[95,100,105]}}}},
{"data":{"name":"f"},"transform":[{"filter":"datum.e==4"}],"mark":{"type":"line","color":"#00ff00","strokeWidth":2.2},"encoding":{"y":{"field":"v","type":"quantitative","scale":{"domain":[94,106.4]},"axis":null}}},
{"data":{"name":"o"},"transform":[{"filter":"datum.e==4"}],"mark":{"type":"line","color":"#ff0000","strokeWidth":2},"encoding":{"y":{"field":"v","type":"quantitative","scale":{"domain":[290.4,400]},"axis":{"title":null,"orient":"right","values":[300,350,400]}}}}
],"resolve":{"scale":{"y":"independent"},"axis":{"y":"independent"}}},
{"title":{"text":"Exp. 5 - 14 Apr 2020"},"width":224,"height":114,"encoding":{"x":{"field":"t","type":"quantitative","scale":{"domain":[0,20]},"axis":{"title":null,"values":[0,5,10,15,20]}}},"layer":[
{"data":{"name":"c"},"transform":[{"filter":"datum.e==5"}],"mark":{"type":"circle","size":16,"color":"#0000ff","opacity":1},"encoding":{"y":{"field":"v","type":"quantitative","scale":{"domain":[56.4,101.6]},"axis":{"title":null,"orient":"left","values":[60,80,100]}}}},
{"data":{"name":"f"},"transform":[{"filter":"datum.e==5"}],"mark":{"type":"line","color":"#00ff00","strokeWidth":2.2},"encoding":{"y":{"field":"v","type":"quantitative","scale":{"domain":[56.4,101.6]},"axis":null}}},
{"data":{"name":"o"},"transform":[{"filter":"datum.e==5"}],"mark":{"type":"line","color":"#ff0000","strokeWidth":2},"encoding":{"y":{"field":"v","type":"quantitative","scale":{"domain":[140.4,250]},"axis":{"title":null,"orient":"right","values":[150,200,250]}}}}
],"resolve":{"scale":{"y":"independent"},"axis":{"y":"independent"}}},
{"title":{"text":"Exp. 6 - 20 Apr 2020"},"width":224,"height":114,"encoding":{"x":{"field":"t","type":"quantitative","scale":{"domain":[0,43.9]},"axis":{"title":null,"values":[0,10,20,30,40]}}},"layer":[
{"data":{"name":"c"},"transform":[{"filter":"datum.e==6"}],"mark":{"type":"circle","size":16,"color":"#0000ff","opacity":1},"encoding":{"y":{"field":"v","type":"quantitative","scale":{"domain":[0,200]},"axis":{"title":null,"orient":"left","values":[0,100,200]}}}},
{"data":{"name":"f"},"transform":[{"filter":"datum.e==6"}],"mark":{"type":"line","color":"#00ff00","strokeWidth":2.2},"encoding":{"y":{"field":"v","type":"quantitative","scale":{"domain":[0,200]},"axis":null}}},
{"data":{"name":"o"},"transform":[{"filter":"datum.e==6"}],"mark":{"type":"line","color":"#ff0000","strokeWidth":2},"encoding":{"y":{"field":"v","type":"quantitative","scale":{"domain":[0,200]},"axis":{"title":null,"orient":"right","values":[0,100,200],"labels":false,"domainColor":"#0000ff","tickColor":"#0000ff"}}}}
],"resolve":{"scale":{"y":"independent"},"axis":{"y":"independent"}}},
{"title":{"text":"Exp. 8 - 27 Apr 2020"},"width":224,"height":114,"encoding":{"x":{"field":"t","type":"quantitative","scale":{"domain":[0,44.8]},"axis":{"title":null,"values":[0,10,20,30,40]}}},"layer":[
{"data":{"name":"c"},"transform":[{"filter":"datum.e==8"}],"mark":{"type":"circle","size":16,"color":"#0000ff","opacity":1},"encoding":{"y":{"field":"v","type":"quantitative","scale":{"domain":[20,80]},"axis":{"title":null,"orient":"left","values":[20,40,60,80]}}}},
{"data":{"name":"f"},"transform":[{"filter":"datum.e==8"}],"mark":{"type":"line","color":"#00ff00","strokeWidth":2.2},"encoding":{"y":{"field":"v","type":"quantitative","scale":{"domain":[20,80]},"axis":null}}},
{"data":{"name":"o"},"transform":[{"filter":"datum.e==8"}],"mark":{"type":"line","color":"#ff0000","strokeWidth":2},"encoding":{"y":{"field":"v","type":"quantitative","scale":{"domain":[200,350]},"axis":{"title":null,"orient":"right","values":[200,250,300,350]}}}}
],"resolve":{"scale":{"y":"independent"},"axis":{"y":"independent"}}},
{"title":{"text":"Exp. 9 - 5 May 2020"},"width":224,"height":114,"encoding":{"x":{"field":"t","type":"quantitative","scale":{"domain":[0,60]},"axis":{"title":null,"values":[0,20,40,60]}}},"layer":[
{"data":{"name":"c"},"transform":[{"filter":"datum.e==9"}],"mark":{"type":"circle","size":16,"color":"#0000ff","opacity":1},"encoding":{"y":{"field":"v","type":"quantitative","scale":{"domain":[20,60]},"axis":{"title":null,"orient":"left","values":[20,40,60]}}}},
{"data":{"name":"f"},"transform":[{"filter":"datum.e==9"}],"mark":{"type":"line","color":"#00ff00","strokeWidth":2.2},"encoding":{"y":{"field":"v","type":"quantitative","scale":{"domain":[20,60]},"axis":null}}},
{"data":{"name":"o"},"transform":[{"filter":"datum.e==9"}],"mark":{"type":"line","color":"#ff0000","strokeWidth":2},"encoding":{"y":{"field":"v","type":"quantitative","scale":{"domain":[20,60]},"axis":{"title":null,"orient":"right","values":[20,40,60],"labels":false,"domainColor":"#0000ff","tickColor":"#0000ff"}}}}
],"resolve":{"scale":{"y":"independent"},"axis":{"y":"independent"}}},
{"title":{"text":"Exp. 10 - 12 May 2020"},"width":224,"height":114,"encoding":{"x":{"field":"t","type":"quantitative","scale":{"domain":[0,60]},"axis":{"title":null,"values":[0,20,40,60]}}},"layer":[
{"data":{"name":"c"},"transform":[{"filter":"datum.e==10"}],"mark":{"type":"circle","size":16,"color":"#0000ff","opacity":1},"encoding":{"y":{"field":"v","type":"quantitative","scale":{"domain":[22,113]},"axis":{"title":null,"orient":"left","values":[40,60,80,100]}}}},
{"data":{"name":"f"},"transform":[{"filter":"datum.e==10"}],"mark":{"type":"line","color":"#00ff00","strokeWidth":2.2},"encoding":{"y":{"field":"v","type":"quantitative","scale":{"domain":[22,113]},"axis":null}}},
{"data":{"name":"o"},"transform":[{"filter":"datum.e==10"}],"mark":{"type":"line","color":"#ff0000","strokeWidth":2},"encoding":{"y":{"field":"v","type":"quantitative","scale":{"domain":[100,400]},"axis":{"title":null,"orient":"right","values":[100,200,300,400]}}}}
],"resolve":{"scale":{"y":"independent"},"axis":{"y":"independent"}}},
{"title":{"text":"Exp. 6 - 16 Jun 2020"},"width":224,"height":114,"encoding":{"x":{"field":"t","type":"quantitative","scale":{"domain":[0,213]},"axis":{"title":null,"values":[0,50,100,150,200]}}},"layer":[
{"data":{"name":"c"},"transform":[{"filter":"datum.e==61"}],"mark":{"type":"circle","size":16,"color":"#0000ff","opacity":1},"encoding":{"y":{"field":"v","type":"quantitative","scale":{"domain":[0,2000]},"axis":{"title":"Methane (nM)","titleColor":"#0000ff","titleY":131,"titlePadding":8,"orient":"left","values":[0,1000,2000]}}}},
{"data":{"name":"f"},"transform":[{"filter":"datum.e==61"}],"mark":{"type":"line","color":"#00ff00","strokeWidth":2.2},"encoding":{"y":{"field":"v","type":"quantitative","scale":{"domain":[0,2000]},"axis":null}}},
{"data":{"name":"o"},"transform":[{"filter":"datum.e==61"}],"mark":{"type":"line","color":"#ff0000","strokeWidth":2},"encoding":{"y":{"field":"v","type":"quantitative","scale":{"domain":[0,222]},"axis":{"title":null,"orient":"right","values":[0,100,200]}}}}
],"resolve":{"scale":{"y":"independent"},"axis":{"y":"independent"}}},
{"title":{"text":"Exp. 12 - 16 Jun 2020"},"width":224,"height":114,"encoding":{"x":{"field":"t","type":"quantitative","scale":{"domain":[0,107]},"axis":{"title":null,"values":[0,50,100]}}},"layer":[
{"data":{"name":"c"},"transform":[{"filter":"datum.e==12"}],"mark":{"type":"circle","size":16,"color":"#0000ff","opacity":1},"encoding":{"y":{"field":"v","type":"quantitative","scale":{"domain":[0,2000]},"axis":{"title":null,"orient":"left","values":[0,1000,2000]}}}},
{"data":{"name":"f"},"transform":[{"filter":"datum.e==12"}],"mark":{"type":"line","color":"#00ff00","strokeWidth":2.2},"encoding":{"y":{"field":"v","type":"quantitative","scale":{"domain":[0,2000]},"axis":null}}},
{"data":{"name":"o"},"transform":[{"filter":"datum.e==12"}],"mark":{"type":"line","color":"#ff0000","strokeWidth":2},"encoding":{"y":{"field":"v","type":"quantitative","scale":{"domain":[0,200]},"axis":{"title":null,"orient":"right","values":[0,100,200]}}}}
],"resolve":{"scale":{"y":"independent"},"axis":{"y":"independent"}}},
{"title":{"text":"Exp. 13 - 26 Jun 2020"},"width":224,"height":114,"encoding":{"x":{"field":"t","type":"quantitative","scale":{"domain":[0,60]},"axis":{"title":null,"values":[0,20,40,60]}}},"layer":[
{"data":{"name":"c"},"transform":[{"filter":"datum.e==13"}],"mark":{"type":"circle","size":16,"color":"#0000ff","opacity":1},"encoding":{"y":{"field":"v","type":"quantitative","scale":{"domain":[0,1]},"axis":{"title":null,"orient":"left","values":[0.5],"labels":false}}}},
{"data":{"name":"o"},"transform":[{"filter":"datum.e==13"}],"mark":{"type":"line","color":"#ff0000","strokeWidth":2},"encoding":{"y":{"field":"v","type":"quantitative","scale":{"domain":[0,150]},"axis":{"title":null,"orient":"right","values":[0,50,100,150]}}}}
],"resolve":{"scale":{"y":"independent"},"axis":{"y":"independent"}}},
{"title":{"text":"Exp. 14 - 26 Jun 2020"},"width":224,"height":114,"encoding":{"x":{"field":"t","type":"quantitative","scale":{"domain":[0,44.1]},"axis":{"title":null,"values":[0,10,20,30,40]}}},"layer":[
{"data":{"name":"c"},"transform":[{"filter":"datum.e==14"}],"mark":{"type":"circle","size":16,"color":"#0000ff","opacity":1},"encoding":{"y":{"field":"v","type":"quantitative","scale":{"domain":[0,200]},"axis":{"title":null,"orient":"left","values":[0,100,200]}}}},
{"data":{"name":"f"},"transform":[{"filter":"datum.e==14"}],"mark":{"type":"line","color":"#00ff00","strokeWidth":2.2},"encoding":{"y":{"field":"v","type":"quantitative","scale":{"domain":[0,200]},"axis":null}}},
{"data":{"name":"o"},"transform":[{"filter":"datum.e==14"}],"mark":{"type":"line","color":"#ff0000","strokeWidth":2},"encoding":{"y":{"field":"v","type":"quantitative","scale":{"domain":[0,200]},"axis":{"title":"Oxygen (μM)","titleColor":"#ff0000","titleY":130,"titlePadding":8,"orient":"right","values":[0,100,200]}}}}
],"resolve":{"scale":{"y":"independent"},"axis":{"y":"independent"}}},
{"title":{"text":"Exp. 15 - 29 Jun 2020"},"width":224,"height":114,"encoding":{"x":{"field":"t","type":"quantitative","scale":{"domain":[0,8]},"axis":{"title":null,"values":[0,2,4,6,8]}}},"layer":[
{"data":{"name":"c"},"transform":[{"filter":"datum.e==15"}],"mark":{"type":"circle","size":16,"color":"#0000ff","opacity":1},"encoding":{"y":{"field":"v","type":"quantitative","scale":{"domain":[0,1]},"axis":{"title":null,"orient":"left","values":[0.5],"labels":false}}}},
{"data":{"name":"o"},"transform":[{"filter":"datum.e==15"}],"mark":{"type":"line","color":"#ff0000","strokeWidth":2},"encoding":{"y":{"field":"v","type":"quantitative","scale":{"domain":[0,30]},"axis":{"title":null,"orient":"right","values":[0,10,20,30]}}}}
],"resolve":{"scale":{"y":"independent"},"axis":{"y":"independent"}}},
{"title":{"text":"Exp. 16 - 29 Jun 2020"},"width":224,"height":114,"encoding":{"x":{"field":"t","type":"quantitative","scale":{"domain":[0,30]},"axis":{"title":null,"values":[0,10,20,30]}}},"layer":[
{"data":{"name":"c"},"transform":[{"filter":"datum.e==16"}],"mark":{"type":"circle","size":16,"color":"#0000ff","opacity":1},"encoding":{"y":{"field":"v","type":"quantitative","scale":{"domain":[300,1000]},"axis":{"title":null,"orient":"left","values":[400,600,800,1000]}}}},
{"data":{"name":"f"},"transform":[{"filter":"datum.e==16"}],"mark":{"type":"line","color":"#00ff00","strokeWidth":2.2},"encoding":{"y":{"field":"v","type":"quantitative","scale":{"domain":[300,1000]},"axis":null}}},
{"data":{"name":"o"},"transform":[{"filter":"datum.e==16"}],"mark":{"type":"line","color":"#ff0000","strokeWidth":2},"encoding":{"y":{"field":"v","type":"quantitative","scale":{"domain":[0,200]},"axis":{"title":null,"orient":"right","values":[0,100,200]}}}}
],"resolve":{"scale":{"y":"independent"},"axis":{"y":"independent"}}},
{"title":{"text":"Exp. 17 - 17 Jul 2020"},"width":224,"height":114,"encoding":{"x":{"field":"t","type":"quantitative","scale":{"domain":[0,31.3]},"axis":{"title":null,"values":[0,10,20,30]}}},"layer":[
{"data":{"name":"c"},"transform":[{"filter":"datum.e==17"}],"mark":{"type":"circle","size":16,"color":"#0000ff","opacity":1},"encoding":{"y":{"field":"v","type":"quantitative","scale":{"domain":[41.5,200]},"axis":{"title":null,"orient":"left","values":[50,100,150,200]}}}},
{"data":{"name":"f"},"transform":[{"filter":"datum.e==17"}],"mark":{"type":"line","color":"#00ff00","strokeWidth":2.2},"encoding":{"y":{"field":"v","type":"quantitative","scale":{"domain":[41.5,200]},"axis":null}}},
{"data":{"name":"o"},"transform":[{"filter":"datum.e==17"}],"mark":{"type":"line","color":"#ff0000","strokeWidth":2},"encoding":{"y":{"field":"v","type":"quantitative","scale":{"domain":[0,300]},"axis":{"title":null,"orient":"right","values":[0,100,200,300]}}}}
],"resolve":{"scale":{"y":"independent"},"axis":{"y":"independent"}}},
{"title":{"text":"Exp. 18 - 26 Oct 2020"},"width":224,"height":114,"encoding":{"x":{"field":"t","type":"quantitative","scale":{"domain":[0,2]},"axis":{"title":null,"values":[0,0.5,1,1.5,2]}}},"layer":[
{"data":{"name":"c"},"transform":[{"filter":"datum.e==18"}],"mark":{"type":"circle","size":16,"color":"#0000ff","opacity":1},"encoding":{"y":{"field":"v","type":"quantitative","scale":{"domain":[168,332]},"axis":{"title":null,"orient":"left","values":[200,250,300]}}}},
{"data":{"name":"f"},"transform":[{"filter":"datum.e==18"}],"mark":{"type":"line","color":"#00ff00","strokeWidth":2.2},"encoding":{"y":{"field":"v","type":"quantitative","scale":{"domain":[168,332]},"axis":null}}},
{"data":{"name":"o18"},"mark":{"type":"circle","size":5,"color":"#ff0000","opacity":1},"encoding":{"y":{"field":"v","type":"quantitative","scale":{"domain":[66,70]},"axis":{"title":null,"orient":"right","values":[66,68,70]}}}}
],"resolve":{"scale":{"y":"independent"},"axis":{"y":"independent"}}},
{"title":{"text":"Exp. 19 - 26 Oct 2020"},"width":224,"height":114,"encoding":{"x":{"field":"t","type":"quantitative","scale":{"domain":[0,22.7]},"axis":{"title":null,"values":[0,5,10,15,20]}}},"layer":[
{"data":{"name":"c"},"transform":[{"filter":"datum.e==19"}],"mark":{"type":"circle","size":16,"color":"#0000ff","opacity":1},"encoding":{"y":{"field":"v","type":"quantitative","scale":{"domain":[0,400]},"axis":{"title":null,"orient":"left","values":[0,200,400]}}}},
{"data":{"name":"f"},"transform":[{"filter":"datum.e==19"}],"mark":{"type":"line","color":"#00ff00","strokeWidth":2.2},"encoding":{"y":{"field":"v","type":"quantitative","scale":{"domain":[0,400]},"axis":null}}},
{"data":{"name":"o"},"transform":[{"filter":"datum.e==19"}],"mark":{"type":"line","color":"#ff0000","strokeWidth":2},"encoding":{"y":{"field":"v","type":"quantitative","scale":{"domain":[0,100]},"axis":{"title":null,"orient":"right","values":[0,50,100]}}}}
],"resolve":{"scale":{"y":"independent"},"axis":{"y":"independent"}}},
{"title":{"text":"Exp. 20 - 26 Oct 2020"},"width":224,"height":114,"encoding":{"x":{"field":"t","type":"quantitative","scale":{"domain":[0,30]},"axis":{"title":null,"values":[0,10,20,30]}}},"layer":[
{"data":{"name":"c"},"transform":[{"filter":"datum.e==20"}],"mark":{"type":"circle","size":16,"color":"#0000ff","opacity":1},"encoding":{"y":{"field":"v","type":"quantitative","scale":{"domain":[0,400]},"axis":{"title":null,"orient":"left","values":[0,200,400]}}}},
{"data":{"name":"f"},"transform":[{"filter":"datum.e==20"}],"mark":{"type":"line","color":"#00ff00","strokeWidth":2.2},"encoding":{"y":{"field":"v","type":"quantitative","scale":{"domain":[0,400]},"axis":null}}},
{"data":{"name":"o"},"transform":[{"filter":"datum.e==20"}],"mark":{"type":"line","color":"#ff0000","strokeWidth":2},"encoding":{"y":{"field":"v","type":"quantitative","scale":{"domain":[0,100]},"axis":{"title":null,"orient":"right","values":[0,50,100]}}}}
],"resolve":{"scale":{"y":"independent"},"axis":{"y":"independent"}}},
{"title":{"text":"Exp. 21 - 25 Jun 2021"},"width":224,"height":114,"encoding":{"x":{"field":"t","type":"quantitative","scale":{"domain":[0,80]},"axis":{"title":null,"values":[0,20,40,60,80]}}},"layer":[
{"data":{"name":"c"},"transform":[{"filter":"datum.e==21"}],"mark":{"type":"circle","size":16,"color":"#0000ff","opacity":1},"encoding":{"y":{"field":"v","type":"quantitative","scale":{"domain":[66,303]},"axis":{"title":null,"orient":"left","values":[100,200,300]}}}},
{"data":{"name":"f"},"transform":[{"filter":"datum.e==21"}],"mark":{"type":"line","color":"#00ff00","strokeWidth":2.2},"encoding":{"y":{"field":"v","type":"quantitative","scale":{"domain":[66,303]},"axis":null}}},
{"data":{"name":"o"},"transform":[{"filter":"datum.e==21"}],"mark":{"type":"line","color":"#ff0000","strokeWidth":2},"encoding":{"y":{"field":"v","type":"quantitative","scale":{"domain":[0,300]},"axis":{"title":null,"orient":"right","values":[0,100,200,300]}}}}
],"resolve":{"scale":{"y":"independent"},"axis":{"y":"independent"}}},
{"title":{"text":"Exp. 22 - 29 Jun 2021"},"width":224,"height":114,"encoding":{"x":{"field":"t","type":"quantitative","scale":{"domain":[0,60]},"axis":{"title":null,"values":[0,20,40,60]}}},"layer":[
{"data":{"name":"c"},"transform":[{"filter":"datum.e==22"}],"mark":{"type":"circle","size":16,"color":"#0000ff","opacity":1},"encoding":{"y":{"field":"v","type":"quantitative","scale":{"domain":[179,400]},"axis":{"title":null,"orient":"left","values":[200,300,400]}}}},
{"data":{"name":"f"},"transform":[{"filter":"datum.e==22"}],"mark":{"type":"line","color":"#00ff00","strokeWidth":2.2},"encoding":{"y":{"field":"v","type":"quantitative","scale":{"domain":[179,400]},"axis":null}}},
{"data":{"name":"o"},"transform":[{"filter":"datum.e==22"}],"mark":{"type":"line","color":"#ff0000","strokeWidth":2},"encoding":{"y":{"field":"v","type":"quantitative","scale":{"domain":[0,400]},"axis":{"title":null,"orient":"right","values":[0,200,400]}}}}
],"resolve":{"scale":{"y":"independent"},"axis":{"y":"independent"}}},
{"title":{"text":"Exp. 23 - 10 Jul 2021"},"width":224,"height":114,"encoding":{"x":{"field":"t","type":"quantitative","scale":{"domain":[0,30]},"axis":{"title":null,"values":[0,10,20,30]}}},"layer":[
{"data":{"name":"c"},"transform":[{"filter":"datum.e==23"}],"mark":{"type":"circle","size":16,"color":"#0000ff","opacity":1},"encoding":{"y":{"field":"v","type":"quantitative","scale":{"domain":[0,200]},"axis":{"title":null,"orient":"left","values":[0,100,200]}}}},
{"data":{"name":"f"},"transform":[{"filter":"datum.e==23"}],"mark":{"type":"line","color":"#00ff00","strokeWidth":2.2},"encoding":{"y":{"field":"v","type":"quantitative","scale":{"domain":[0,200]},"axis":null}}},
{"data":{"name":"o"},"transform":[{"filter":"datum.e==23"}],"mark":{"type":"line","color":"#ff0000","strokeWidth":2},"encoding":{"y":{"field":"v","type":"quantitative","scale":{"domain":[0,150]},"axis":{"title":null,"orient":"right","values":[0,50,100,150]}}}}
],"resolve":{"scale":{"y":"independent"},"axis":{"y":"independent"}}},
{"title":{"text":"Exp. 24 - 29 Oct 2021"},"width":224,"height":114,"encoding":{"x":{"field":"t","type":"quantitative","scale":{"domain":[0,40]},"axis":{"title":"Duration (h)","titleX":261,"titlePadding":6,"titleColor":"#000","values":[0,10,20,30,40]}}},"layer":[
{"data":{"name":"c"},"transform":[{"filter":"datum.e==24"}],"mark":{"type":"circle","size":16,"color":"#0000ff","opacity":1},"encoding":{"y":{"field":"v","type":"quantitative","scale":{"domain":[0,400]},"axis":{"title":null,"orient":"left","values":[0,200,400]}}}},
{"data":{"name":"f"},"transform":[{"filter":"datum.e==24"}],"mark":{"type":"line","color":"#00ff00","strokeWidth":2.2},"encoding":{"y":{"field":"v","type":"quantitative","scale":{"domain":[0,400]},"axis":null}}},
{"data":{"name":"o"},"transform":[{"filter":"datum.e==24"}],"mark":{"type":"line","color":"#ff0000","strokeWidth":2},"encoding":{"y":{"field":"v","type":"quantitative","scale":{"domain":[100,160]},"axis":{"title":null,"orient":"right","values":[100,120,140,160]}}}}
],"resolve":{"scale":{"y":"independent"},"axis":{"y":"independent"}}},
{"title":{"text":"Exp. 25 - 29 Oct 2021"},"width":224,"height":114,"encoding":{"x":{"field":"t","type":"quantitative","scale":{"domain":[0,40]},"axis":{"title":null,"values":[0,10,20,30,40]}}},"layer":[
{"data":{"name":"c"},"transform":[{"filter":"datum.e==25"}],"mark":{"type":"circle","size":16,"color":"#0000ff","opacity":1},"encoding":{"y":{"field":"v","type":"quantitative","scale":{"domain":[0,400]},"axis":{"title":null,"orient":"left","values":[0,200,400]}}}},
{"data":{"name":"f"},"transform":[{"filter":"datum.e==25"}],"mark":{"type":"line","color":"#00ff00","strokeWidth":2.2},"encoding":{"y":{"field":"v","type":"quantitative","scale":{"domain":[0,400]},"axis":null}}},
{"data":{"name":"o"},"transform":[{"filter":"datum.e==25"}],"mark":{"type":"line","color":"#ff0000","strokeWidth":2},"encoding":{"y":{"field":"v","type":"quantitative","scale":{"domain":[120,165]},"axis":{"title":null,"orient":"right","values":[120,140,160]}}}}
],"resolve":{"scale":{"y":"independent"},"axis":{"y":"independent"}}},
{"title":{"text":"Exp. 26 - 29 Oct 2021"},"width":224,"height":114,"encoding":{"x":{"field":"t","type":"quantitative","scale":{"domain":[0,40]},"axis":{"title":null,"values":[0,10,20,30,40]}}},"layer":[
{"data":{"name":"c"},"transform":[{"filter":"datum.e==26"}],"mark":{"type":"circle","size":16,"color":"#0000ff","opacity":1},"encoding":{"y":{"field":"v","type":"quantitative","scale":{"domain":[0,400]},"axis":{"title":null,"orient":"left","values":[0,200,400]}}}},
{"data":{"name":"f"},"transform":[{"filter":"datum.e==26"}],"mark":{"type":"line","color":"#00ff00","strokeWidth":2.2},"encoding":{"y":{"field":"v","type":"quantitative","scale":{"domain":[0,400]},"axis":null}}},
{"data":{"name":"o"},"transform":[{"filter":"datum.e==26"}],"mark":{"type":"line","color":"#ff0000","strokeWidth":2},"encoding":{"y":{"field":"v","type":"quantitative","scale":{"domain":[115,160]},"axis":{"title":null,"orient":"right","values":[120,140,160]}}}}
],"resolve":{"scale":{"y":"independent"},"axis":{"y":"independent"}}}
]
}
